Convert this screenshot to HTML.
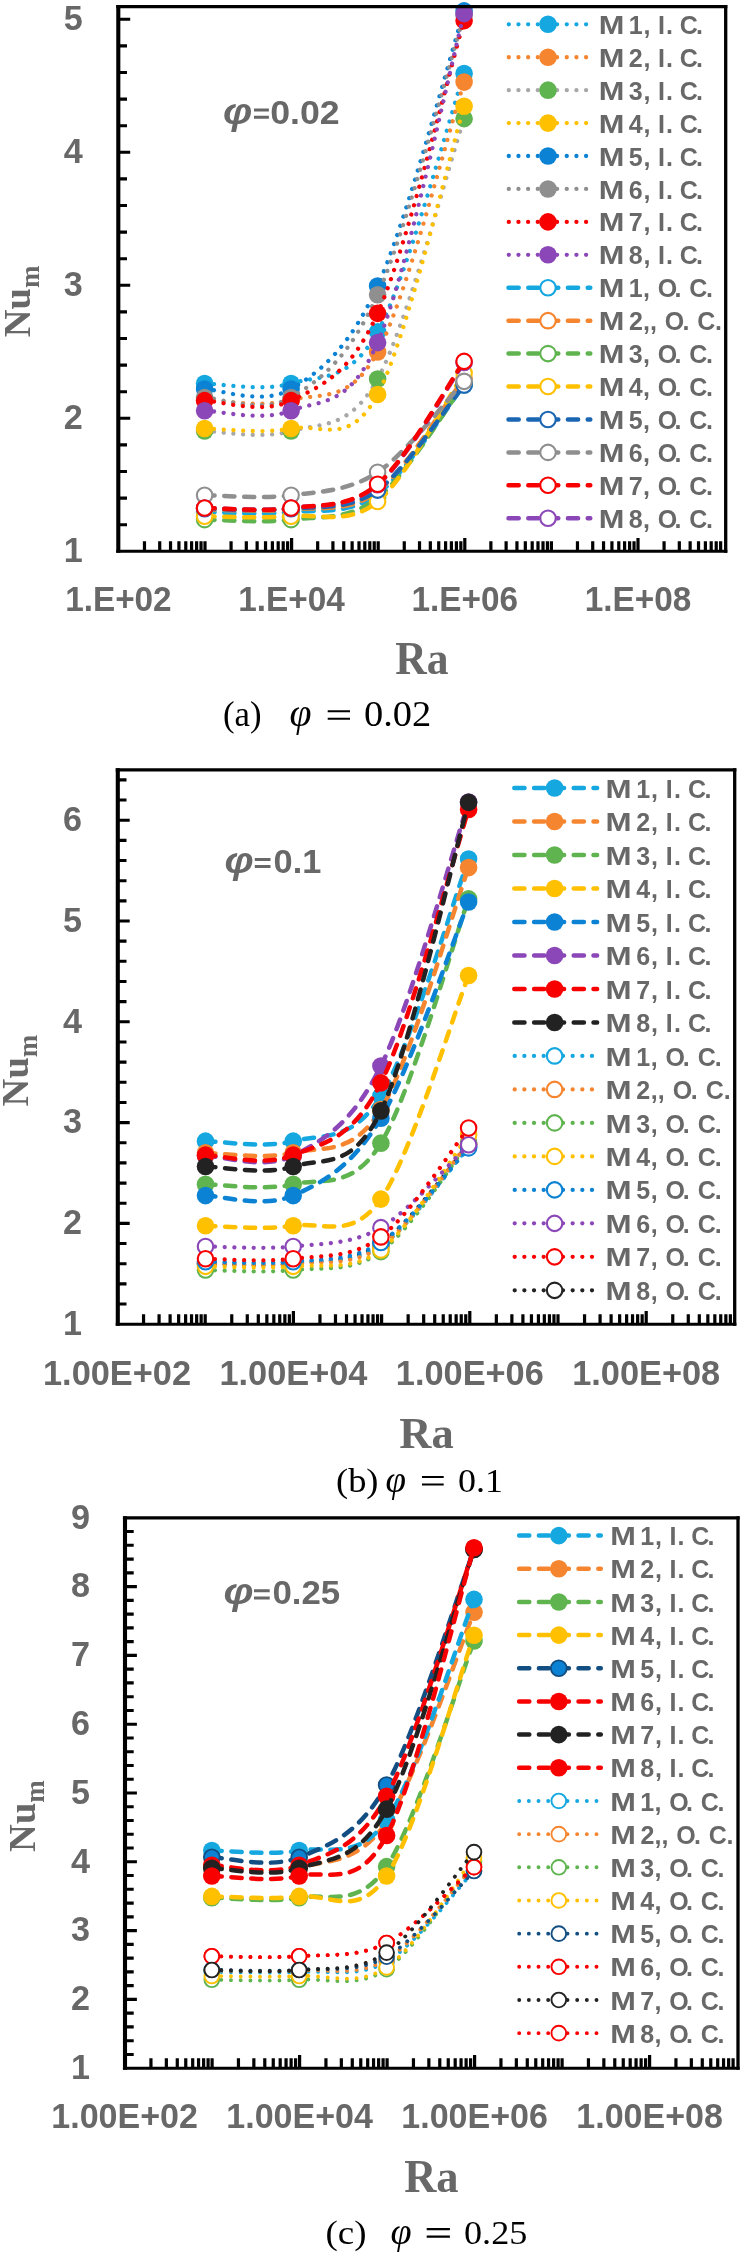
<!DOCTYPE html>
<html><head><meta charset="utf-8"><title>Nu_m vs Ra</title>
<style>
html,body{margin:0;padding:0;background:#fff;}
body{width:742px;height:2255px;overflow:hidden;font-family:"Liberation Sans",sans-serif;}
svg{display:block;will-change:transform;}
</style></head>
<body>
<svg width="742" height="2255" viewBox="0 0 742 2255">
<rect width="742" height="2255" fill="#fff"/>
<clipPath id="clip1"><rect x="106.3" y="-5.4" width="631.4" height="568.7"/></clipPath>
<g clip-path="url(#clip1)">
<path d="M204.6,383.45 C219.02,383.45 262.27,392.05 291.1,383.45 C319.93,374.85 348.77,383.52 377.6,331.85 C406.43,280.18 449.68,116.5 464.1,73.43" fill="none" stroke="#14a7e0" stroke-width="4.3" stroke-dasharray="0.01 9.65" stroke-linecap="round" stroke-linejoin="round"/>
<circle cx="204.6" cy="383.45" r="8.8" fill="#14a7e0"/>
<circle cx="291.1" cy="383.45" r="8.8" fill="#14a7e0"/>
<circle cx="377.6" cy="331.85" r="8.8" fill="#14a7e0"/>
<circle cx="464.1" cy="73.43" r="8.8" fill="#14a7e0"/>
<path d="M204.6,400.08 C219.02,400.08 262.27,408.1 291.1,400.08 C319.93,392.05 348.77,404.93 377.6,351.93 C406.43,298.93 449.68,127.05 464.1,82.08" fill="none" stroke="#f5852e" stroke-width="4.3" stroke-dasharray="0.01 9.65" stroke-linecap="round" stroke-linejoin="round"/>
<circle cx="204.6" cy="400.08" r="8.8" fill="#f5852e"/>
<circle cx="291.1" cy="400.08" r="8.8" fill="#f5852e"/>
<circle cx="377.6" cy="351.93" r="8.8" fill="#f5852e"/>
<circle cx="464.1" cy="82.08" r="8.8" fill="#f5852e"/>
<path d="M204.6,431.07 C219.02,431.07 262.27,439.74 291.1,431.07 C319.93,422.4 348.77,431.13 377.6,379.06 C406.43,327 449.68,162.05 464.1,118.65" fill="none" stroke="#a8a8a8" stroke-width="4.3" stroke-dasharray="0.01 9.65" stroke-linecap="round" stroke-linejoin="round"/>
<circle cx="204.6" cy="431.07" r="8.8" fill="#60b450"/>
<circle cx="291.1" cy="431.07" r="8.8" fill="#60b450"/>
<circle cx="377.6" cy="379.06" r="8.8" fill="#60b450"/>
<circle cx="464.1" cy="118.65" r="8.8" fill="#60b450"/>
<path d="M204.6,428.54 C219.02,428.54 262.27,434.22 291.1,428.54 C319.93,422.87 348.77,448.2 377.6,394.49 C406.43,340.78 449.68,154.32 464.1,106.28" fill="none" stroke="#ffc000" stroke-width="4.3" stroke-dasharray="0.01 9.65" stroke-linecap="round" stroke-linejoin="round"/>
<circle cx="204.6" cy="428.54" r="8.8" fill="#ffc000"/>
<circle cx="291.1" cy="428.54" r="8.8" fill="#ffc000"/>
<circle cx="377.6" cy="394.49" r="8.8" fill="#ffc000"/>
<circle cx="464.1" cy="106.28" r="8.8" fill="#ffc000"/>
<path d="M204.6,389.04 C219.02,389.04 262.27,406.22 291.1,389.04 C319.93,371.86 348.77,348.98 377.6,285.96 C406.43,222.95 449.68,56.76 464.1,10.92" fill="none" stroke="#0b82d3" stroke-width="4.3" stroke-dasharray="0.01 9.65" stroke-linecap="round" stroke-linejoin="round"/>
<circle cx="204.6" cy="389.04" r="8.8" fill="#0b82d3"/>
<circle cx="291.1" cy="389.04" r="8.8" fill="#0b82d3"/>
<circle cx="377.6" cy="285.96" r="8.8" fill="#0b82d3"/>
<circle cx="464.1" cy="10.92" r="8.8" fill="#0b82d3"/>
<path d="M204.6,397.55 C219.02,397.55 262.27,414.69 291.1,397.55 C319.93,380.42 348.77,358.45 377.6,294.74 C406.43,231.04 449.68,61.88 464.1,15.31" fill="none" stroke="#8f8f8f" stroke-width="4.3" stroke-dasharray="0.01 9.65" stroke-linecap="round" stroke-linejoin="round"/>
<circle cx="204.6" cy="397.55" r="8.8" fill="#8f8f8f"/>
<circle cx="291.1" cy="397.55" r="8.8" fill="#8f8f8f"/>
<circle cx="377.6" cy="294.74" r="8.8" fill="#8f8f8f"/>
<circle cx="464.1" cy="15.31" r="8.8" fill="#8f8f8f"/>
<path d="M204.6,400.61 C219.02,400.61 262.27,415.15 291.1,400.61 C319.93,386.07 348.77,376.69 377.6,313.36 C406.43,250.03 449.68,69.42 464.1,20.63" fill="none" stroke="#f80000" stroke-width="4.3" stroke-dasharray="0.01 9.65" stroke-linecap="round" stroke-linejoin="round"/>
<circle cx="204.6" cy="400.61" r="8.8" fill="#f80000"/>
<circle cx="291.1" cy="400.61" r="8.8" fill="#f80000"/>
<circle cx="377.6" cy="313.36" r="8.8" fill="#f80000"/>
<circle cx="464.1" cy="20.63" r="8.8" fill="#f80000"/>
<path d="M204.6,410.72 C219.02,410.72 262.27,422.07 291.1,410.72 C319.93,399.37 348.77,408.81 377.6,342.62 C406.43,276.43 449.68,68.42 464.1,13.58" fill="none" stroke="#8b46b7" stroke-width="4.3" stroke-dasharray="0.01 9.65" stroke-linecap="round" stroke-linejoin="round"/>
<circle cx="204.6" cy="410.72" r="8.8" fill="#8b46b7"/>
<circle cx="291.1" cy="410.72" r="8.8" fill="#8b46b7"/>
<circle cx="377.6" cy="342.62" r="8.8" fill="#8b46b7"/>
<circle cx="464.1" cy="13.58" r="8.8" fill="#8b46b7"/>
<path d="M204.6,512.06 C219.02,512.06 262.27,515.06 291.1,512.06 C319.93,509.07 348.77,515.28 377.6,494.11 C406.43,472.94 449.68,403.23 464.1,385.05" fill="none" stroke="#14a7e0" stroke-width="4.5" stroke-dasharray="10.2 9.6" stroke-linecap="round" stroke-linejoin="round"/>
<circle cx="204.6" cy="512.06" r="7.75" fill="#fff" stroke="#14a7e0" stroke-width="2.1"/>
<circle cx="291.1" cy="512.06" r="7.75" fill="#fff" stroke="#14a7e0" stroke-width="2.1"/>
<circle cx="377.6" cy="494.11" r="7.75" fill="#fff" stroke="#14a7e0" stroke-width="2.1"/>
<circle cx="464.1" cy="385.05" r="7.75" fill="#fff" stroke="#14a7e0" stroke-width="2.1"/>
<path d="M204.6,509.4 C219.02,509.4 262.27,512.4 291.1,509.4 C319.93,506.41 348.77,513.28 377.6,491.45 C406.43,469.62 449.68,397.24 464.1,378.4" fill="none" stroke="#f5852e" stroke-width="4.5" stroke-dasharray="10.2 9.6" stroke-linecap="round" stroke-linejoin="round"/>
<circle cx="204.6" cy="509.4" r="7.75" fill="#fff" stroke="#f5852e" stroke-width="2.1"/>
<circle cx="291.1" cy="509.4" r="7.75" fill="#fff" stroke="#f5852e" stroke-width="2.1"/>
<circle cx="377.6" cy="491.45" r="7.75" fill="#fff" stroke="#f5852e" stroke-width="2.1"/>
<circle cx="464.1" cy="378.4" r="7.75" fill="#fff" stroke="#f5852e" stroke-width="2.1"/>
<path d="M204.6,519.65 C219.02,519.65 262.27,523.24 291.1,519.65 C319.93,516.05 348.77,520.75 377.6,498.1 C406.43,475.45 449.68,402.78 464.1,383.72" fill="none" stroke="#60b450" stroke-width="4.5" stroke-dasharray="10.2 9.6" stroke-linecap="round" stroke-linejoin="round"/>
<circle cx="204.6" cy="519.65" r="7.75" fill="#fff" stroke="#60b450" stroke-width="2.1"/>
<circle cx="291.1" cy="519.65" r="7.75" fill="#fff" stroke="#60b450" stroke-width="2.1"/>
<circle cx="377.6" cy="498.1" r="7.75" fill="#fff" stroke="#60b450" stroke-width="2.1"/>
<circle cx="464.1" cy="383.72" r="7.75" fill="#fff" stroke="#60b450" stroke-width="2.1"/>
<path d="M204.6,516.19 C219.02,516.19 262.27,518.63 291.1,516.19 C319.93,513.75 348.77,525.41 377.6,501.56 C406.43,477.71 449.68,394.49 464.1,373.08" fill="none" stroke="#ffc000" stroke-width="4.5" stroke-dasharray="10.2 9.6" stroke-linecap="round" stroke-linejoin="round"/>
<circle cx="204.6" cy="516.19" r="7.75" fill="#fff" stroke="#ffc000" stroke-width="2.1"/>
<circle cx="291.1" cy="516.19" r="7.75" fill="#fff" stroke="#ffc000" stroke-width="2.1"/>
<circle cx="377.6" cy="501.56" r="7.75" fill="#fff" stroke="#ffc000" stroke-width="2.1"/>
<circle cx="464.1" cy="373.08" r="7.75" fill="#fff" stroke="#ffc000" stroke-width="2.1"/>
<path d="M204.6,508.74 C219.02,508.74 262.27,511.84 291.1,508.74 C319.93,505.64 348.77,510.73 377.6,490.12 C406.43,469.5 449.68,402.56 464.1,385.05" fill="none" stroke="#1a66b2" stroke-width="4.5" stroke-dasharray="10.2 9.6" stroke-linecap="round" stroke-linejoin="round"/>
<circle cx="204.6" cy="508.74" r="7.75" fill="#fff" stroke="#1a66b2" stroke-width="2.1"/>
<circle cx="291.1" cy="508.74" r="7.75" fill="#fff" stroke="#1a66b2" stroke-width="2.1"/>
<circle cx="377.6" cy="490.12" r="7.75" fill="#fff" stroke="#1a66b2" stroke-width="2.1"/>
<circle cx="464.1" cy="385.05" r="7.75" fill="#fff" stroke="#1a66b2" stroke-width="2.1"/>
<path d="M204.6,495.31 C219.02,495.31 262.27,499.14 291.1,495.31 C319.93,491.47 348.77,491.29 377.6,472.3 C406.43,453.3 449.68,396.49 464.1,381.33" fill="none" stroke="#8f8f8f" stroke-width="4.5" stroke-dasharray="10.2 9.6" stroke-linecap="round" stroke-linejoin="round"/>
<circle cx="204.6" cy="495.31" r="7.75" fill="#fff" stroke="#8f8f8f" stroke-width="2.1"/>
<circle cx="291.1" cy="495.31" r="7.75" fill="#fff" stroke="#8f8f8f" stroke-width="2.1"/>
<circle cx="377.6" cy="472.3" r="7.75" fill="#fff" stroke="#8f8f8f" stroke-width="2.1"/>
<circle cx="464.1" cy="381.33" r="7.75" fill="#fff" stroke="#8f8f8f" stroke-width="2.1"/>
<path d="M204.6,508.07 C219.02,508.07 262.27,511.95 291.1,508.07 C319.93,504.2 348.77,509.07 377.6,484.8 C406.43,460.53 449.68,382.83 464.1,362.44" fill="none" stroke="#8b46b7" stroke-width="4.5" stroke-dasharray="10.2 9.6" stroke-linecap="round" stroke-linejoin="round"/>
<circle cx="204.6" cy="508.07" r="7.75" fill="#fff" stroke="#8b46b7" stroke-width="2.1"/>
<circle cx="291.1" cy="508.07" r="7.75" fill="#fff" stroke="#8b46b7" stroke-width="2.1"/>
<circle cx="377.6" cy="484.8" r="7.75" fill="#fff" stroke="#8b46b7" stroke-width="2.1"/>
<circle cx="464.1" cy="362.44" r="7.75" fill="#fff" stroke="#8b46b7" stroke-width="2.1"/>
<path d="M204.6,508.07 C219.02,508.07 262.27,512.04 291.1,508.07 C319.93,504.11 348.77,508.72 377.6,484.27 C406.43,459.82 449.68,381.86 464.1,361.38" fill="none" stroke="#f80000" stroke-width="4.5" stroke-dasharray="10.2 9.6" stroke-linecap="round" stroke-linejoin="round"/>
<circle cx="204.6" cy="508.07" r="7.75" fill="#fff" stroke="#f80000" stroke-width="2.1"/>
<circle cx="291.1" cy="508.07" r="7.75" fill="#fff" stroke="#f80000" stroke-width="2.1"/>
<circle cx="377.6" cy="484.27" r="7.75" fill="#fff" stroke="#f80000" stroke-width="2.1"/>
<circle cx="464.1" cy="361.38" r="7.75" fill="#fff" stroke="#f80000" stroke-width="2.1"/>
</g>
<path d="M118.3,4.95 V552.85" stroke="#000" stroke-width="4.1" fill="none"/>
<path d="M725.7,4.95 V552.85" stroke="#000" stroke-width="3.3" fill="none"/>
<path d="M116.25,6.6 H727.35" stroke="#000" stroke-width="3.3" fill="none"/>
<path d="M116.25,551.3 H727.35" stroke="#000" stroke-width="3.1" fill="none"/>
<path d="M118.3,524.7 h8.7 M118.3,498.1 h8.7 M118.3,471.5 h8.7 M118.3,444.9 h8.7 M118.3,418.3 h11.9 M118.3,391.7 h8.7 M118.3,365.1 h8.7 M118.3,338.5 h8.7 M118.3,311.9 h8.7 M118.3,285.3 h11.9 M118.3,258.7 h8.7 M118.3,232.1 h8.7 M118.3,205.5 h8.7 M118.3,178.9 h8.7 M118.3,152.3 h11.9 M118.3,125.7 h8.7 M118.3,99.1 h8.7 M118.3,72.5 h8.7 M118.3,45.9 h8.7 M118.3,19.3 h11.9" stroke="#000" stroke-width="3.1" fill="none"/>
<path d="M144.47,551.3 v-10 M159.72,551.3 v-10 M170.54,551.3 v-10 M178.93,551.3 v-10 M185.79,551.3 v-10 M191.59,551.3 v-10 M196.61,551.3 v-10 M201.04,551.3 v-10 M205,551.3 v-10 M231.07,551.3 v-10 M246.32,551.3 v-10 M257.14,551.3 v-10 M265.53,551.3 v-10 M272.39,551.3 v-10 M278.19,551.3 v-10 M283.21,551.3 v-10 M287.64,551.3 v-10 M291.6,551.3 v-13.2 M317.67,551.3 v-10 M332.92,551.3 v-10 M343.74,551.3 v-10 M352.13,551.3 v-10 M358.99,551.3 v-10 M364.79,551.3 v-10 M369.81,551.3 v-10 M374.24,551.3 v-10 M378.2,551.3 v-10 M404.27,551.3 v-10 M419.52,551.3 v-10 M430.34,551.3 v-10 M438.73,551.3 v-10 M445.59,551.3 v-10 M451.39,551.3 v-10 M456.41,551.3 v-10 M460.84,551.3 v-10 M464.8,551.3 v-13.2 M490.87,551.3 v-10 M506.12,551.3 v-10 M516.94,551.3 v-10 M525.33,551.3 v-10 M532.19,551.3 v-10 M537.99,551.3 v-10 M543.01,551.3 v-10 M547.44,551.3 v-10 M551.4,551.3 v-10 M577.47,551.3 v-10 M592.72,551.3 v-10 M603.54,551.3 v-10 M611.93,551.3 v-10 M618.79,551.3 v-10 M624.59,551.3 v-10 M629.61,551.3 v-10 M634.04,551.3 v-10 M638,551.3 v-13.2 M664.07,551.3 v-10 M679.32,551.3 v-10 M690.14,551.3 v-10 M698.53,551.3 v-10 M705.39,551.3 v-10 M711.19,551.3 v-10 M716.21,551.3 v-10 M720.64,551.3 v-10" stroke="#000" stroke-width="3.2" fill="none"/>
<text x="82.8" y="562.1" font-family="Liberation Sans, sans-serif" font-size="34.2" font-weight="bold" fill="#686868" text-anchor="end">1</text>
<text x="82.8" y="429.1" font-family="Liberation Sans, sans-serif" font-size="34.2" font-weight="bold" fill="#686868" text-anchor="end">2</text>
<text x="82.8" y="296.1" font-family="Liberation Sans, sans-serif" font-size="34.2" font-weight="bold" fill="#686868" text-anchor="end">3</text>
<text x="82.8" y="163.1" font-family="Liberation Sans, sans-serif" font-size="34.2" font-weight="bold" fill="#686868" text-anchor="end">4</text>
<text x="82.8" y="30.1" font-family="Liberation Sans, sans-serif" font-size="34.2" font-weight="bold" fill="#686868" text-anchor="end">5</text>
<text x="118.4" y="610.8" font-family="Liberation Sans, sans-serif" font-size="34.5" font-weight="bold" fill="#686868" text-anchor="middle" textLength="106.5" lengthAdjust="spacingAndGlyphs">1.E+02</text>
<text x="291.6" y="610.8" font-family="Liberation Sans, sans-serif" font-size="34.5" font-weight="bold" fill="#686868" text-anchor="middle" textLength="106.5" lengthAdjust="spacingAndGlyphs">1.E+04</text>
<text x="464.8" y="610.8" font-family="Liberation Sans, sans-serif" font-size="34.5" font-weight="bold" fill="#686868" text-anchor="middle" textLength="106.5" lengthAdjust="spacingAndGlyphs">1.E+06</text>
<text x="638" y="610.8" font-family="Liberation Sans, sans-serif" font-size="34.5" font-weight="bold" fill="#686868" text-anchor="middle" textLength="106.5" lengthAdjust="spacingAndGlyphs">1.E+08</text>
<text x="395.2" y="673.9" font-family="Liberation Serif, serif" font-size="46.5" font-weight="bold" fill="#686868" text-anchor="start" textLength="53.3" lengthAdjust="spacingAndGlyphs">Ra</text>
<g transform="translate(30.3,337.2) rotate(-90)">
<text x="0" y="0" font-family="Liberation Serif, serif" font-weight="bold" fill="#686868" font-size="38.5">Nu<tspan font-size="27" dy="9">m</tspan></text>
</g>
<text transform="translate(223.11,123.6) scale(1.152,1)" font-family="Liberation Sans, sans-serif" font-weight="bold" font-style="italic" fill="#686868" font-size="36.1">&#966;</text>
<path d="M254,110 H268.9 M254,117.2 H268.9" stroke="#686868" stroke-width="3.0" fill="none"/>
<text x="270.29" y="123.6" font-family="Liberation Sans, sans-serif" font-size="33" font-weight="bold" fill="#686868" text-anchor="start" textLength="69.44" lengthAdjust="spacingAndGlyphs">0.02</text>
<text x="223" y="725.8" font-family="Liberation Serif, serif" font-size="35.5" font-weight="normal" fill="#000" text-anchor="start" textLength="38.6" lengthAdjust="spacingAndGlyphs">(a)</text>
<text x="289.5" y="725.8" font-family="Liberation Serif, serif" font-style="italic" fill="#000" font-size="39.760000000000005">&#966;</text>
<path d="M327.7,711.3 h22.3 M327.7,718.8 h22.3" stroke="#000" stroke-width="2.1"/>
<text x="364" y="725.8" font-family="Liberation Serif, serif" font-size="35.5" font-weight="normal" fill="#000" text-anchor="start" textLength="67.3" lengthAdjust="spacingAndGlyphs">0.02</text>
<path d="M508.8,24.3 H586.5" fill="none" stroke="#14a7e0" stroke-width="4.3" stroke-dasharray="0.01 9.65" stroke-linecap="round" stroke-linejoin="round"/>
<circle cx="548" cy="24.3" r="8.8" fill="#14a7e0"/>
<text x="598.7" y="33.9" font-family="Liberation Sans, sans-serif" font-size="25" font-weight="bold" fill="#686868" text-anchor="start" textLength="25.6" lengthAdjust="spacingAndGlyphs">M</text>
<text x="628.8 643.4 657.9 666 679.7 695.9" y="33.9" font-family="Liberation Sans, sans-serif" font-size="25" font-weight="bold" fill="#686868">1,I.C.</text>
<path d="M508.8,57.23 H586.5" fill="none" stroke="#f5852e" stroke-width="4.3" stroke-dasharray="0.01 9.65" stroke-linecap="round" stroke-linejoin="round"/>
<circle cx="548" cy="57.23" r="8.8" fill="#f5852e"/>
<text x="598.7" y="66.83" font-family="Liberation Sans, sans-serif" font-size="25" font-weight="bold" fill="#686868" text-anchor="start" textLength="25.6" lengthAdjust="spacingAndGlyphs">M</text>
<text x="628.8 643.4 657.9 666 679.7 695.9" y="66.83" font-family="Liberation Sans, sans-serif" font-size="25" font-weight="bold" fill="#686868">2,I.C.</text>
<path d="M508.8,90.16 H586.5" fill="none" stroke="#a8a8a8" stroke-width="4.3" stroke-dasharray="0.01 9.65" stroke-linecap="round" stroke-linejoin="round"/>
<circle cx="548" cy="90.16" r="8.8" fill="#60b450"/>
<text x="598.7" y="99.76" font-family="Liberation Sans, sans-serif" font-size="25" font-weight="bold" fill="#686868" text-anchor="start" textLength="25.6" lengthAdjust="spacingAndGlyphs">M</text>
<text x="628.8 643.4 657.9 666 679.7 695.9" y="99.76" font-family="Liberation Sans, sans-serif" font-size="25" font-weight="bold" fill="#686868">3,I.C.</text>
<path d="M508.8,123.09 H586.5" fill="none" stroke="#ffc000" stroke-width="4.3" stroke-dasharray="0.01 9.65" stroke-linecap="round" stroke-linejoin="round"/>
<circle cx="548" cy="123.09" r="8.8" fill="#ffc000"/>
<text x="598.7" y="132.69" font-family="Liberation Sans, sans-serif" font-size="25" font-weight="bold" fill="#686868" text-anchor="start" textLength="25.6" lengthAdjust="spacingAndGlyphs">M</text>
<text x="628.8 643.4 657.9 666 679.7 695.9" y="132.69" font-family="Liberation Sans, sans-serif" font-size="25" font-weight="bold" fill="#686868">4,I.C.</text>
<path d="M508.8,156.02 H586.5" fill="none" stroke="#0b82d3" stroke-width="4.3" stroke-dasharray="0.01 9.65" stroke-linecap="round" stroke-linejoin="round"/>
<circle cx="548" cy="156.02" r="8.8" fill="#0b82d3"/>
<text x="598.7" y="165.62" font-family="Liberation Sans, sans-serif" font-size="25" font-weight="bold" fill="#686868" text-anchor="start" textLength="25.6" lengthAdjust="spacingAndGlyphs">M</text>
<text x="628.8 643.4 657.9 666 679.7 695.9" y="165.62" font-family="Liberation Sans, sans-serif" font-size="25" font-weight="bold" fill="#686868">5,I.C.</text>
<path d="M508.8,188.95 H586.5" fill="none" stroke="#8f8f8f" stroke-width="4.3" stroke-dasharray="0.01 9.65" stroke-linecap="round" stroke-linejoin="round"/>
<circle cx="548" cy="188.95" r="8.8" fill="#8f8f8f"/>
<text x="598.7" y="198.55" font-family="Liberation Sans, sans-serif" font-size="25" font-weight="bold" fill="#686868" text-anchor="start" textLength="25.6" lengthAdjust="spacingAndGlyphs">M</text>
<text x="628.8 643.4 657.9 666 679.7 695.9" y="198.55" font-family="Liberation Sans, sans-serif" font-size="25" font-weight="bold" fill="#686868">6,I.C.</text>
<path d="M508.8,221.88 H586.5" fill="none" stroke="#f80000" stroke-width="4.3" stroke-dasharray="0.01 9.65" stroke-linecap="round" stroke-linejoin="round"/>
<circle cx="548" cy="221.88" r="8.8" fill="#f80000"/>
<text x="598.7" y="231.48" font-family="Liberation Sans, sans-serif" font-size="25" font-weight="bold" fill="#686868" text-anchor="start" textLength="25.6" lengthAdjust="spacingAndGlyphs">M</text>
<text x="628.8 643.4 657.9 666 679.7 695.9" y="231.48" font-family="Liberation Sans, sans-serif" font-size="25" font-weight="bold" fill="#686868">7,I.C.</text>
<path d="M508.8,254.81 H586.5" fill="none" stroke="#8b46b7" stroke-width="4.3" stroke-dasharray="0.01 9.65" stroke-linecap="round" stroke-linejoin="round"/>
<circle cx="548" cy="254.81" r="8.8" fill="#8b46b7"/>
<text x="598.7" y="264.41" font-family="Liberation Sans, sans-serif" font-size="25" font-weight="bold" fill="#686868" text-anchor="start" textLength="25.6" lengthAdjust="spacingAndGlyphs">M</text>
<text x="628.8 643.4 657.9 666 679.7 695.9" y="264.41" font-family="Liberation Sans, sans-serif" font-size="25" font-weight="bold" fill="#686868">8,I.C.</text>
<path d="M508.5,287.74 H590.3" fill="none" stroke="#14a7e0" stroke-width="4.5" stroke-dasharray="10.2 9.6" stroke-linecap="round" stroke-linejoin="round"/>
<circle cx="548" cy="287.74" r="7.75" fill="#fff" stroke="#14a7e0" stroke-width="2.1"/>
<text x="598.7" y="297.34" font-family="Liberation Sans, sans-serif" font-size="25" font-weight="bold" fill="#686868" text-anchor="start" textLength="25.6" lengthAdjust="spacingAndGlyphs">M</text>
<text x="628.8 643 657.7 674.6 689.3 706.1" y="297.34" font-family="Liberation Sans, sans-serif" font-size="25" font-weight="bold" fill="#686868">1,O.C.</text>
<path d="M508.5,320.67 H590.3" fill="none" stroke="#f5852e" stroke-width="4.5" stroke-dasharray="10.2 9.6" stroke-linecap="round" stroke-linejoin="round"/>
<circle cx="548" cy="320.67" r="7.75" fill="#fff" stroke="#f5852e" stroke-width="2.1"/>
<text x="598.7" y="330.27" font-family="Liberation Sans, sans-serif" font-size="25" font-weight="bold" fill="#686868" text-anchor="start" textLength="25.6" lengthAdjust="spacingAndGlyphs">M</text>
<text x="628.9 643 650.1 664.8 682.4 697.2 714.9" y="330.27" font-family="Liberation Sans, sans-serif" font-size="25" font-weight="bold" fill="#686868">2,,O.C.</text>
<path d="M508.5,353.6 H590.3" fill="none" stroke="#60b450" stroke-width="4.5" stroke-dasharray="10.2 9.6" stroke-linecap="round" stroke-linejoin="round"/>
<circle cx="548" cy="353.6" r="7.75" fill="#fff" stroke="#60b450" stroke-width="2.1"/>
<text x="598.7" y="363.2" font-family="Liberation Sans, sans-serif" font-size="25" font-weight="bold" fill="#686868" text-anchor="start" textLength="25.6" lengthAdjust="spacingAndGlyphs">M</text>
<text x="628.8 643 657.7 674.6 689.3 706.1" y="363.2" font-family="Liberation Sans, sans-serif" font-size="25" font-weight="bold" fill="#686868">3,O.C.</text>
<path d="M508.5,386.53 H590.3" fill="none" stroke="#ffc000" stroke-width="4.5" stroke-dasharray="10.2 9.6" stroke-linecap="round" stroke-linejoin="round"/>
<circle cx="548" cy="386.53" r="7.75" fill="#fff" stroke="#ffc000" stroke-width="2.1"/>
<text x="598.7" y="396.13" font-family="Liberation Sans, sans-serif" font-size="25" font-weight="bold" fill="#686868" text-anchor="start" textLength="25.6" lengthAdjust="spacingAndGlyphs">M</text>
<text x="628.8 643 657.7 674.6 689.3 706.1" y="396.13" font-family="Liberation Sans, sans-serif" font-size="25" font-weight="bold" fill="#686868">4,O.C.</text>
<path d="M508.5,419.46 H590.3" fill="none" stroke="#1a66b2" stroke-width="4.5" stroke-dasharray="10.2 9.6" stroke-linecap="round" stroke-linejoin="round"/>
<circle cx="548" cy="419.46" r="7.75" fill="#fff" stroke="#1a66b2" stroke-width="2.1"/>
<text x="598.7" y="429.06" font-family="Liberation Sans, sans-serif" font-size="25" font-weight="bold" fill="#686868" text-anchor="start" textLength="25.6" lengthAdjust="spacingAndGlyphs">M</text>
<text x="628.8 643 657.7 674.6 689.3 706.1" y="429.06" font-family="Liberation Sans, sans-serif" font-size="25" font-weight="bold" fill="#686868">5,O.C.</text>
<path d="M508.5,452.39 H590.3" fill="none" stroke="#8f8f8f" stroke-width="4.5" stroke-dasharray="10.2 9.6" stroke-linecap="round" stroke-linejoin="round"/>
<circle cx="548" cy="452.39" r="7.75" fill="#fff" stroke="#8f8f8f" stroke-width="2.1"/>
<text x="598.7" y="461.99" font-family="Liberation Sans, sans-serif" font-size="25" font-weight="bold" fill="#686868" text-anchor="start" textLength="25.6" lengthAdjust="spacingAndGlyphs">M</text>
<text x="628.8 643 657.7 674.6 689.3 706.1" y="461.99" font-family="Liberation Sans, sans-serif" font-size="25" font-weight="bold" fill="#686868">6,O.C.</text>
<path d="M508.5,485.32 H590.3" fill="none" stroke="#f80000" stroke-width="4.5" stroke-dasharray="10.2 9.6" stroke-linecap="round" stroke-linejoin="round"/>
<circle cx="548" cy="485.32" r="7.75" fill="#fff" stroke="#f80000" stroke-width="2.1"/>
<text x="598.7" y="494.92" font-family="Liberation Sans, sans-serif" font-size="25" font-weight="bold" fill="#686868" text-anchor="start" textLength="25.6" lengthAdjust="spacingAndGlyphs">M</text>
<text x="628.8 643 657.7 674.6 689.3 706.1" y="494.92" font-family="Liberation Sans, sans-serif" font-size="25" font-weight="bold" fill="#686868">7,O.C.</text>
<path d="M508.5,518.25 H590.3" fill="none" stroke="#8b46b7" stroke-width="4.5" stroke-dasharray="10.2 9.6" stroke-linecap="round" stroke-linejoin="round"/>
<circle cx="548" cy="518.25" r="7.75" fill="#fff" stroke="#8b46b7" stroke-width="2.1"/>
<text x="598.7" y="527.85" font-family="Liberation Sans, sans-serif" font-size="25" font-weight="bold" fill="#686868" text-anchor="start" textLength="25.6" lengthAdjust="spacingAndGlyphs">M</text>
<text x="628.8 643 657.7 674.6 689.3 706.1" y="527.85" font-family="Liberation Sans, sans-serif" font-size="25" font-weight="bold" fill="#686868">8,O.C.</text>
<clipPath id="clip2"><rect x="105.8" y="757.9" width="640.9" height="578.3"/></clipPath>
<g clip-path="url(#clip2)">
<path d="M205.5,1141.15 C220.12,1141.15 263.97,1148.67 293.2,1141.15 C322.43,1133.62 351.67,1143.01 380.9,1095.99 C410.13,1048.97 453.98,898.5 468.6,859.01" fill="none" stroke="#14a7e0" stroke-width="4.5" stroke-dasharray="10.2 9.6" stroke-linecap="round" stroke-linejoin="round"/>
<circle cx="205.5" cy="1141.15" r="8.8" fill="#14a7e0"/>
<circle cx="293.2" cy="1141.15" r="8.8" fill="#14a7e0"/>
<circle cx="380.9" cy="1095.99" r="8.8" fill="#14a7e0"/>
<circle cx="468.6" cy="859.01" r="8.8" fill="#14a7e0"/>
<path d="M205.5,1152.84 C220.12,1152.84 263.97,1160.06 293.2,1152.84 C322.43,1145.62 351.67,1157.04 380.9,1109.5 C410.13,1061.95 453.98,907.9 468.6,867.58" fill="none" stroke="#f5852e" stroke-width="4.5" stroke-dasharray="10.2 9.6" stroke-linecap="round" stroke-linejoin="round"/>
<circle cx="205.5" cy="1152.84" r="8.8" fill="#f5852e"/>
<circle cx="293.2" cy="1152.84" r="8.8" fill="#f5852e"/>
<circle cx="380.9" cy="1109.5" r="8.8" fill="#f5852e"/>
<circle cx="468.6" cy="867.58" r="8.8" fill="#f5852e"/>
<path d="M205.5,1184.29 C220.12,1184.29 263.97,1191.14 293.2,1184.29 C322.43,1177.44 351.67,1190.72 380.9,1143.16 C410.13,1095.6 453.98,939.63 468.6,898.92" fill="none" stroke="#60b450" stroke-width="4.5" stroke-dasharray="10.2 9.6" stroke-linecap="round" stroke-linejoin="round"/>
<circle cx="205.5" cy="1184.29" r="8.8" fill="#60b450"/>
<circle cx="293.2" cy="1184.29" r="8.8" fill="#60b450"/>
<circle cx="380.9" cy="1143.16" r="8.8" fill="#60b450"/>
<circle cx="468.6" cy="898.92" r="8.8" fill="#60b450"/>
<path d="M205.5,1225.82 C220.12,1225.82 263.97,1230.27 293.2,1225.82 C322.43,1221.37 351.67,1240.84 380.9,1199.11 C410.13,1157.38 453.98,1012.71 468.6,975.43" fill="none" stroke="#ffc000" stroke-width="4.5" stroke-dasharray="10.2 9.6" stroke-linecap="round" stroke-linejoin="round"/>
<circle cx="205.5" cy="1225.82" r="8.8" fill="#ffc000"/>
<circle cx="293.2" cy="1225.82" r="8.8" fill="#ffc000"/>
<circle cx="380.9" cy="1199.11" r="8.8" fill="#ffc000"/>
<circle cx="468.6" cy="975.43" r="8.8" fill="#ffc000"/>
<path d="M205.5,1195.58 C220.12,1195.58 263.97,1208.46 293.2,1195.58 C322.43,1182.69 351.67,1167.19 380.9,1118.27 C410.13,1069.34 453.98,938.09 468.6,902.05" fill="none" stroke="#0b82d3" stroke-width="4.5" stroke-dasharray="10.2 9.6" stroke-linecap="round" stroke-linejoin="round"/>
<circle cx="205.5" cy="1195.58" r="8.8" fill="#0b82d3"/>
<circle cx="293.2" cy="1195.58" r="8.8" fill="#0b82d3"/>
<circle cx="380.9" cy="1118.27" r="8.8" fill="#0b82d3"/>
<circle cx="468.6" cy="902.05" r="8.8" fill="#0b82d3"/>
<path d="M205.5,1155.66 C220.12,1155.66 263.97,1170.6 293.2,1155.66 C322.43,1140.73 351.67,1124.99 380.9,1066.05 C410.13,1007.12 453.98,846.06 468.6,802.06" fill="none" stroke="#8b46b7" stroke-width="4.5" stroke-dasharray="10.2 9.6" stroke-linecap="round" stroke-linejoin="round"/>
<circle cx="205.5" cy="1155.66" r="8.8" fill="#8b46b7"/>
<circle cx="293.2" cy="1155.66" r="8.8" fill="#8b46b7"/>
<circle cx="380.9" cy="1066.05" r="8.8" fill="#8b46b7"/>
<circle cx="468.6" cy="802.06" r="8.8" fill="#8b46b7"/>
<path d="M205.5,1155.16 C220.12,1155.16 263.97,1167.2 293.2,1155.16 C322.43,1143.11 351.67,1140.51 380.9,1082.88 C410.13,1025.26 453.98,854.99 468.6,809.41" fill="none" stroke="#f80000" stroke-width="4.5" stroke-dasharray="10.2 9.6" stroke-linecap="round" stroke-linejoin="round"/>
<circle cx="205.5" cy="1155.16" r="8.8" fill="#f80000"/>
<circle cx="293.2" cy="1155.16" r="8.8" fill="#f80000"/>
<circle cx="380.9" cy="1082.88" r="8.8" fill="#f80000"/>
<circle cx="468.6" cy="809.41" r="8.8" fill="#f80000"/>
<path d="M205.5,1166.45 C220.12,1166.45 263.97,1175.7 293.2,1166.45 C322.43,1157.19 351.67,1171.59 380.9,1110.91 C410.13,1050.23 453.98,853.78 468.6,802.36" fill="none" stroke="#222222" stroke-width="4.5" stroke-dasharray="10.2 9.6" stroke-linecap="round" stroke-linejoin="round"/>
<circle cx="205.5" cy="1166.45" r="8.8" fill="#222222"/>
<circle cx="293.2" cy="1166.45" r="8.8" fill="#222222"/>
<circle cx="380.9" cy="1110.91" r="8.8" fill="#222222"/>
<circle cx="468.6" cy="802.36" r="8.8" fill="#222222"/>
<path d="M205.5,1263.72 C220.12,1263.72 263.97,1267.08 293.2,1263.72 C322.43,1260.36 351.67,1263.38 380.9,1243.56 C410.13,1223.74 453.98,1161.24 468.6,1144.78" fill="none" stroke="#222222" stroke-width="4.3" stroke-dasharray="0.01 9.65" stroke-linecap="round" stroke-linejoin="round"/>
<circle cx="205.5" cy="1263.72" r="7.75" fill="#fff" stroke="#222222" stroke-width="2.1"/>
<circle cx="293.2" cy="1263.72" r="7.75" fill="#fff" stroke="#222222" stroke-width="2.1"/>
<circle cx="380.9" cy="1243.56" r="7.75" fill="#fff" stroke="#222222" stroke-width="2.1"/>
<circle cx="468.6" cy="1144.78" r="7.75" fill="#fff" stroke="#222222" stroke-width="2.1"/>
<path d="M205.5,1261.7 C220.12,1261.7 263.97,1264.39 293.2,1261.7 C322.43,1259.02 351.67,1264.73 380.9,1245.58 C410.13,1226.42 453.98,1163.26 468.6,1146.79" fill="none" stroke="#14a7e0" stroke-width="4.3" stroke-dasharray="0.01 9.65" stroke-linecap="round" stroke-linejoin="round"/>
<circle cx="205.5" cy="1261.7" r="7.75" fill="#fff" stroke="#14a7e0" stroke-width="2.1"/>
<circle cx="293.2" cy="1261.7" r="7.75" fill="#fff" stroke="#14a7e0" stroke-width="2.1"/>
<circle cx="380.9" cy="1245.58" r="7.75" fill="#fff" stroke="#14a7e0" stroke-width="2.1"/>
<circle cx="468.6" cy="1146.79" r="7.75" fill="#fff" stroke="#14a7e0" stroke-width="2.1"/>
<path d="M205.5,1263.72 C220.12,1263.72 263.97,1266.58 293.2,1263.72 C322.43,1260.86 351.67,1266.74 380.9,1246.58 C410.13,1226.42 453.98,1160.06 468.6,1142.76" fill="none" stroke="#f5852e" stroke-width="4.3" stroke-dasharray="0.01 9.65" stroke-linecap="round" stroke-linejoin="round"/>
<circle cx="205.5" cy="1263.72" r="7.75" fill="#fff" stroke="#f5852e" stroke-width="2.1"/>
<circle cx="293.2" cy="1263.72" r="7.75" fill="#fff" stroke="#f5852e" stroke-width="2.1"/>
<circle cx="380.9" cy="1246.58" r="7.75" fill="#fff" stroke="#f5852e" stroke-width="2.1"/>
<circle cx="468.6" cy="1142.76" r="7.75" fill="#fff" stroke="#f5852e" stroke-width="2.1"/>
<path d="M205.5,1270.07 C220.12,1270.07 263.97,1273.14 293.2,1270.07 C322.43,1267 351.67,1272.84 380.9,1251.62 C410.13,1230.41 453.98,1160.9 468.6,1142.76" fill="none" stroke="#60b450" stroke-width="4.3" stroke-dasharray="0.01 9.65" stroke-linecap="round" stroke-linejoin="round"/>
<circle cx="205.5" cy="1270.07" r="7.75" fill="#fff" stroke="#60b450" stroke-width="2.1"/>
<circle cx="293.2" cy="1270.07" r="7.75" fill="#fff" stroke="#60b450" stroke-width="2.1"/>
<circle cx="380.9" cy="1251.62" r="7.75" fill="#fff" stroke="#60b450" stroke-width="2.1"/>
<circle cx="468.6" cy="1142.76" r="7.75" fill="#fff" stroke="#60b450" stroke-width="2.1"/>
<path d="M205.5,1266.34 C220.12,1266.34 263.97,1269.06 293.2,1266.34 C322.43,1263.62 351.67,1271.9 380.9,1250.01 C410.13,1228.12 453.98,1154.17 468.6,1135" fill="none" stroke="#ffc000" stroke-width="4.3" stroke-dasharray="0.01 9.65" stroke-linecap="round" stroke-linejoin="round"/>
<circle cx="205.5" cy="1266.34" r="7.75" fill="#fff" stroke="#ffc000" stroke-width="2.1"/>
<circle cx="293.2" cy="1266.34" r="7.75" fill="#fff" stroke="#ffc000" stroke-width="2.1"/>
<circle cx="380.9" cy="1250.01" r="7.75" fill="#fff" stroke="#ffc000" stroke-width="2.1"/>
<circle cx="468.6" cy="1135" r="7.75" fill="#fff" stroke="#ffc000" stroke-width="2.1"/>
<path d="M205.5,1261.7 C220.12,1261.7 263.97,1264.9 293.2,1261.7 C322.43,1258.51 351.67,1261.52 380.9,1242.55 C410.13,1223.58 453.98,1163.68 468.6,1147.9" fill="none" stroke="#0b82d3" stroke-width="4.3" stroke-dasharray="0.01 9.65" stroke-linecap="round" stroke-linejoin="round"/>
<circle cx="205.5" cy="1261.7" r="7.75" fill="#fff" stroke="#0b82d3" stroke-width="2.1"/>
<circle cx="293.2" cy="1261.7" r="7.75" fill="#fff" stroke="#0b82d3" stroke-width="2.1"/>
<circle cx="380.9" cy="1242.55" r="7.75" fill="#fff" stroke="#0b82d3" stroke-width="2.1"/>
<circle cx="468.6" cy="1147.9" r="7.75" fill="#fff" stroke="#0b82d3" stroke-width="2.1"/>
<path d="M205.5,1246.48 C220.12,1246.48 263.97,1249.62 293.2,1246.48 C322.43,1243.34 351.67,1244.6 380.9,1227.63 C410.13,1210.67 453.98,1158.5 468.6,1144.68" fill="none" stroke="#8b46b7" stroke-width="4.3" stroke-dasharray="0.01 9.65" stroke-linecap="round" stroke-linejoin="round"/>
<circle cx="205.5" cy="1246.48" r="7.75" fill="#fff" stroke="#8b46b7" stroke-width="2.1"/>
<circle cx="293.2" cy="1246.48" r="7.75" fill="#fff" stroke="#8b46b7" stroke-width="2.1"/>
<circle cx="380.9" cy="1227.63" r="7.75" fill="#fff" stroke="#8b46b7" stroke-width="2.1"/>
<circle cx="468.6" cy="1144.68" r="7.75" fill="#fff" stroke="#8b46b7" stroke-width="2.1"/>
<path d="M205.5,1258.78 C220.12,1258.78 263.97,1262.43 293.2,1258.78 C322.43,1255.14 351.67,1258.7 380.9,1236.91 C410.13,1215.12 453.98,1146.19 468.6,1128.04" fill="none" stroke="#f80000" stroke-width="4.3" stroke-dasharray="0.01 9.65" stroke-linecap="round" stroke-linejoin="round"/>
<circle cx="205.5" cy="1258.78" r="7.75" fill="#fff" stroke="#f80000" stroke-width="2.1"/>
<circle cx="293.2" cy="1258.78" r="7.75" fill="#fff" stroke="#f80000" stroke-width="2.1"/>
<circle cx="380.9" cy="1236.91" r="7.75" fill="#fff" stroke="#f80000" stroke-width="2.1"/>
<circle cx="468.6" cy="1128.04" r="7.75" fill="#fff" stroke="#f80000" stroke-width="2.1"/>
</g>
<path d="M117.8,768.25 V1325.75" stroke="#000" stroke-width="4.1" fill="none"/>
<path d="M734.7,768.25 V1325.75" stroke="#000" stroke-width="3.3" fill="none"/>
<path d="M115.75,769.9 H736.35" stroke="#000" stroke-width="3.3" fill="none"/>
<path d="M115.75,1324.2 H736.35" stroke="#000" stroke-width="3.1" fill="none"/>
<path d="M117.8,1304.04 h8.7 M117.8,1283.88 h8.7 M117.8,1263.72 h8.7 M117.8,1243.56 h8.7 M117.8,1223.4 h11.9 M117.8,1203.24 h8.7 M117.8,1183.08 h8.7 M117.8,1162.92 h8.7 M117.8,1142.76 h8.7 M117.8,1122.6 h11.9 M117.8,1102.44 h8.7 M117.8,1082.28 h8.7 M117.8,1062.12 h8.7 M117.8,1041.96 h8.7 M117.8,1021.8 h11.9 M117.8,1001.64 h8.7 M117.8,981.48 h8.7 M117.8,961.32 h8.7 M117.8,941.16 h8.7 M117.8,921 h11.9 M117.8,900.84 h8.7 M117.8,880.68 h8.7 M117.8,860.52 h8.7 M117.8,840.36 h8.7 M117.8,820.2 h11.9 M117.8,800.04 h8.7 M117.8,779.88 h8.7" stroke="#000" stroke-width="3.1" fill="none"/>
<path d="M143.55,1324.2 v-10 M159.08,1324.2 v-10 M170.1,1324.2 v-10 M178.65,1324.2 v-10 M185.63,1324.2 v-10 M191.54,1324.2 v-10 M196.65,1324.2 v-10 M201.16,1324.2 v-10 M205.2,1324.2 v-10 M231.75,1324.2 v-10 M247.28,1324.2 v-10 M258.3,1324.2 v-10 M266.85,1324.2 v-10 M273.83,1324.2 v-10 M279.74,1324.2 v-10 M284.85,1324.2 v-10 M289.36,1324.2 v-10 M293.4,1324.2 v-13.2 M319.95,1324.2 v-10 M335.48,1324.2 v-10 M346.5,1324.2 v-10 M355.05,1324.2 v-10 M362.03,1324.2 v-10 M367.94,1324.2 v-10 M373.05,1324.2 v-10 M377.56,1324.2 v-10 M381.6,1324.2 v-10 M408.15,1324.2 v-10 M423.68,1324.2 v-10 M434.7,1324.2 v-10 M443.25,1324.2 v-10 M450.23,1324.2 v-10 M456.14,1324.2 v-10 M461.25,1324.2 v-10 M465.76,1324.2 v-10 M469.8,1324.2 v-13.2 M496.35,1324.2 v-10 M511.88,1324.2 v-10 M522.9,1324.2 v-10 M531.45,1324.2 v-10 M538.43,1324.2 v-10 M544.34,1324.2 v-10 M549.45,1324.2 v-10 M553.96,1324.2 v-10 M558,1324.2 v-10 M584.55,1324.2 v-10 M600.08,1324.2 v-10 M611.1,1324.2 v-10 M619.65,1324.2 v-10 M626.63,1324.2 v-10 M632.54,1324.2 v-10 M637.65,1324.2 v-10 M642.16,1324.2 v-10 M646.2,1324.2 v-13.2 M672.75,1324.2 v-10 M688.28,1324.2 v-10 M699.3,1324.2 v-10 M707.85,1324.2 v-10 M714.83,1324.2 v-10 M720.74,1324.2 v-10 M725.85,1324.2 v-10 M730.36,1324.2 v-10" stroke="#000" stroke-width="3.2" fill="none"/>
<text x="82" y="1335" font-family="Liberation Sans, sans-serif" font-size="34.2" font-weight="bold" fill="#686868" text-anchor="end">1</text>
<text x="82" y="1234.2" font-family="Liberation Sans, sans-serif" font-size="34.2" font-weight="bold" fill="#686868" text-anchor="end">2</text>
<text x="82" y="1133.4" font-family="Liberation Sans, sans-serif" font-size="34.2" font-weight="bold" fill="#686868" text-anchor="end">3</text>
<text x="82" y="1032.6" font-family="Liberation Sans, sans-serif" font-size="34.2" font-weight="bold" fill="#686868" text-anchor="end">4</text>
<text x="82" y="931.8" font-family="Liberation Sans, sans-serif" font-size="34.2" font-weight="bold" fill="#686868" text-anchor="end">5</text>
<text x="82" y="831" font-family="Liberation Sans, sans-serif" font-size="34.2" font-weight="bold" fill="#686868" text-anchor="end">6</text>
<text x="117" y="1385" font-family="Liberation Sans, sans-serif" font-size="35.5" font-weight="bold" fill="#686868" text-anchor="middle" textLength="148" lengthAdjust="spacingAndGlyphs">1.00E+02</text>
<text x="293.4" y="1385" font-family="Liberation Sans, sans-serif" font-size="35.5" font-weight="bold" fill="#686868" text-anchor="middle" textLength="148" lengthAdjust="spacingAndGlyphs">1.00E+04</text>
<text x="469.8" y="1385" font-family="Liberation Sans, sans-serif" font-size="35.5" font-weight="bold" fill="#686868" text-anchor="middle" textLength="148" lengthAdjust="spacingAndGlyphs">1.00E+06</text>
<text x="646.2" y="1385" font-family="Liberation Sans, sans-serif" font-size="35.5" font-weight="bold" fill="#686868" text-anchor="middle" textLength="148" lengthAdjust="spacingAndGlyphs">1.00E+08</text>
<text x="399.3" y="1448.2" font-family="Liberation Serif, serif" font-size="44.5" font-weight="bold" fill="#686868" text-anchor="start" textLength="54.4" lengthAdjust="spacingAndGlyphs">Ra</text>
<g transform="translate(27.6,1106.4) rotate(-90)">
<text x="0" y="0" font-family="Liberation Serif, serif" font-weight="bold" fill="#686868" font-size="38.5">Nu<tspan font-size="27" dy="9">m</tspan></text>
</g>
<text transform="translate(224.42,873) scale(1.148,1)" font-family="Liberation Sans, sans-serif" font-weight="bold" font-style="italic" fill="#686868" font-size="36.1">&#966;</text>
<path d="M254.8,859.4 H270.5 M254.8,866.6 H270.5" stroke="#686868" stroke-width="3.0" fill="none"/>
<text x="273.64" y="873" font-family="Liberation Sans, sans-serif" font-size="33" font-weight="bold" fill="#686868" text-anchor="start" textLength="47.72" lengthAdjust="spacingAndGlyphs">0.1</text>
<text x="336" y="1491.5" font-family="Liberation Serif, serif" font-size="33" font-weight="normal" fill="#000" text-anchor="start" textLength="42.5" lengthAdjust="spacingAndGlyphs">(b)</text>
<text x="385.5" y="1491.5" font-family="Liberation Serif, serif" font-style="italic" fill="#000" font-size="36.96">&#966;</text>
<path d="M422,1477 h21.7 M422,1484.5 h21.7" stroke="#000" stroke-width="2.1"/>
<text x="458" y="1491.5" font-family="Liberation Serif, serif" font-size="33" font-weight="normal" fill="#000" text-anchor="start" textLength="45" lengthAdjust="spacingAndGlyphs">0.1</text>
<path d="M514.3,788 H597.1" fill="none" stroke="#14a7e0" stroke-width="4.5" stroke-dasharray="10.2 9.6" stroke-linecap="round" stroke-linejoin="round"/>
<circle cx="554.6" cy="788" r="8.8" fill="#14a7e0"/>
<text x="605.6" y="797.6" font-family="Liberation Sans, sans-serif" font-size="25" font-weight="bold" fill="#686868" text-anchor="start" textLength="26.03" lengthAdjust="spacingAndGlyphs">M</text>
<text x="636.19 651.03 665.77 674.01 687.94 704.41" y="797.6" font-family="Liberation Sans, sans-serif" font-size="25" font-weight="bold" fill="#686868">1,I.C.</text>
<path d="M514.3,821.49 H597.1" fill="none" stroke="#f5852e" stroke-width="4.5" stroke-dasharray="10.2 9.6" stroke-linecap="round" stroke-linejoin="round"/>
<circle cx="554.6" cy="821.49" r="8.8" fill="#f5852e"/>
<text x="605.6" y="831.09" font-family="Liberation Sans, sans-serif" font-size="25" font-weight="bold" fill="#686868" text-anchor="start" textLength="26.03" lengthAdjust="spacingAndGlyphs">M</text>
<text x="636.19 651.03 665.77 674.01 687.94 704.41" y="831.09" font-family="Liberation Sans, sans-serif" font-size="25" font-weight="bold" fill="#686868">2,I.C.</text>
<path d="M514.3,854.98 H597.1" fill="none" stroke="#60b450" stroke-width="4.5" stroke-dasharray="10.2 9.6" stroke-linecap="round" stroke-linejoin="round"/>
<circle cx="554.6" cy="854.98" r="8.8" fill="#60b450"/>
<text x="605.6" y="864.58" font-family="Liberation Sans, sans-serif" font-size="25" font-weight="bold" fill="#686868" text-anchor="start" textLength="26.03" lengthAdjust="spacingAndGlyphs">M</text>
<text x="636.19 651.03 665.77 674.01 687.94 704.41" y="864.58" font-family="Liberation Sans, sans-serif" font-size="25" font-weight="bold" fill="#686868">3,I.C.</text>
<path d="M514.3,888.47 H597.1" fill="none" stroke="#ffc000" stroke-width="4.5" stroke-dasharray="10.2 9.6" stroke-linecap="round" stroke-linejoin="round"/>
<circle cx="554.6" cy="888.47" r="8.8" fill="#ffc000"/>
<text x="605.6" y="898.07" font-family="Liberation Sans, sans-serif" font-size="25" font-weight="bold" fill="#686868" text-anchor="start" textLength="26.03" lengthAdjust="spacingAndGlyphs">M</text>
<text x="636.19 651.03 665.77 674.01 687.94 704.41" y="898.07" font-family="Liberation Sans, sans-serif" font-size="25" font-weight="bold" fill="#686868">4,I.C.</text>
<path d="M514.3,921.96 H597.1" fill="none" stroke="#0b82d3" stroke-width="4.5" stroke-dasharray="10.2 9.6" stroke-linecap="round" stroke-linejoin="round"/>
<circle cx="554.6" cy="921.96" r="8.8" fill="#0b82d3"/>
<text x="605.6" y="931.56" font-family="Liberation Sans, sans-serif" font-size="25" font-weight="bold" fill="#686868" text-anchor="start" textLength="26.03" lengthAdjust="spacingAndGlyphs">M</text>
<text x="636.19 651.03 665.77 674.01 687.94 704.41" y="931.56" font-family="Liberation Sans, sans-serif" font-size="25" font-weight="bold" fill="#686868">5,I.C.</text>
<path d="M514.3,955.45 H597.1" fill="none" stroke="#8b46b7" stroke-width="4.5" stroke-dasharray="10.2 9.6" stroke-linecap="round" stroke-linejoin="round"/>
<circle cx="554.6" cy="955.45" r="8.8" fill="#8b46b7"/>
<text x="605.6" y="965.05" font-family="Liberation Sans, sans-serif" font-size="25" font-weight="bold" fill="#686868" text-anchor="start" textLength="26.03" lengthAdjust="spacingAndGlyphs">M</text>
<text x="636.19 651.03 665.77 674.01 687.94 704.41" y="965.05" font-family="Liberation Sans, sans-serif" font-size="25" font-weight="bold" fill="#686868">6,I.C.</text>
<path d="M514.3,988.94 H597.1" fill="none" stroke="#f80000" stroke-width="4.5" stroke-dasharray="10.2 9.6" stroke-linecap="round" stroke-linejoin="round"/>
<circle cx="554.6" cy="988.94" r="8.8" fill="#f80000"/>
<text x="605.6" y="998.54" font-family="Liberation Sans, sans-serif" font-size="25" font-weight="bold" fill="#686868" text-anchor="start" textLength="26.03" lengthAdjust="spacingAndGlyphs">M</text>
<text x="636.19 651.03 665.77 674.01 687.94 704.41" y="998.54" font-family="Liberation Sans, sans-serif" font-size="25" font-weight="bold" fill="#686868">7,I.C.</text>
<path d="M514.3,1022.43 H597.1" fill="none" stroke="#222222" stroke-width="4.5" stroke-dasharray="10.2 9.6" stroke-linecap="round" stroke-linejoin="round"/>
<circle cx="554.6" cy="1022.43" r="8.8" fill="#222222"/>
<text x="605.6" y="1032.03" font-family="Liberation Sans, sans-serif" font-size="25" font-weight="bold" fill="#686868" text-anchor="start" textLength="26.03" lengthAdjust="spacingAndGlyphs">M</text>
<text x="636.19 651.03 665.77 674.01 687.94 704.41" y="1032.03" font-family="Liberation Sans, sans-serif" font-size="25" font-weight="bold" fill="#686868">8,I.C.</text>
<path d="M514.7,1055.92 H594" fill="none" stroke="#14a7e0" stroke-width="4.3" stroke-dasharray="0.01 9.65" stroke-linecap="round" stroke-linejoin="round"/>
<circle cx="554.6" cy="1055.92" r="7.75" fill="#fff" stroke="#14a7e0" stroke-width="2.1"/>
<text x="605.6" y="1065.52" font-family="Liberation Sans, sans-serif" font-size="25" font-weight="bold" fill="#686868" text-anchor="start" textLength="26.03" lengthAdjust="spacingAndGlyphs">M</text>
<text x="636.19 650.63 665.57 682.75 697.7 714.77" y="1065.52" font-family="Liberation Sans, sans-serif" font-size="25" font-weight="bold" fill="#686868">1,O.C.</text>
<path d="M514.7,1089.41 H594" fill="none" stroke="#f5852e" stroke-width="4.3" stroke-dasharray="0.01 9.65" stroke-linecap="round" stroke-linejoin="round"/>
<circle cx="554.6" cy="1089.41" r="7.75" fill="#fff" stroke="#f5852e" stroke-width="2.1"/>
<text x="605.6" y="1099.01" font-family="Liberation Sans, sans-serif" font-size="25" font-weight="bold" fill="#686868" text-anchor="start" textLength="26.03" lengthAdjust="spacingAndGlyphs">M</text>
<text x="636.29 650.63 657.84 672.79 690.68 705.73 723.72" y="1099.01" font-family="Liberation Sans, sans-serif" font-size="25" font-weight="bold" fill="#686868">2,,O.C.</text>
<path d="M514.7,1122.9 H594" fill="none" stroke="#60b450" stroke-width="4.3" stroke-dasharray="0.01 9.65" stroke-linecap="round" stroke-linejoin="round"/>
<circle cx="554.6" cy="1122.9" r="7.75" fill="#fff" stroke="#60b450" stroke-width="2.1"/>
<text x="605.6" y="1132.5" font-family="Liberation Sans, sans-serif" font-size="25" font-weight="bold" fill="#686868" text-anchor="start" textLength="26.03" lengthAdjust="spacingAndGlyphs">M</text>
<text x="636.19 650.63 665.57 682.75 697.7 714.77" y="1132.5" font-family="Liberation Sans, sans-serif" font-size="25" font-weight="bold" fill="#686868">3,O.C.</text>
<path d="M514.7,1156.39 H594" fill="none" stroke="#ffc000" stroke-width="4.3" stroke-dasharray="0.01 9.65" stroke-linecap="round" stroke-linejoin="round"/>
<circle cx="554.6" cy="1156.39" r="7.75" fill="#fff" stroke="#ffc000" stroke-width="2.1"/>
<text x="605.6" y="1165.99" font-family="Liberation Sans, sans-serif" font-size="25" font-weight="bold" fill="#686868" text-anchor="start" textLength="26.03" lengthAdjust="spacingAndGlyphs">M</text>
<text x="636.19 650.63 665.57 682.75 697.7 714.77" y="1165.99" font-family="Liberation Sans, sans-serif" font-size="25" font-weight="bold" fill="#686868">4,O.C.</text>
<path d="M514.7,1189.88 H594" fill="none" stroke="#0b82d3" stroke-width="4.3" stroke-dasharray="0.01 9.65" stroke-linecap="round" stroke-linejoin="round"/>
<circle cx="554.6" cy="1189.88" r="7.75" fill="#fff" stroke="#0b82d3" stroke-width="2.1"/>
<text x="605.6" y="1199.48" font-family="Liberation Sans, sans-serif" font-size="25" font-weight="bold" fill="#686868" text-anchor="start" textLength="26.03" lengthAdjust="spacingAndGlyphs">M</text>
<text x="636.19 650.63 665.57 682.75 697.7 714.77" y="1199.48" font-family="Liberation Sans, sans-serif" font-size="25" font-weight="bold" fill="#686868">5,O.C.</text>
<path d="M514.7,1223.37 H594" fill="none" stroke="#8b46b7" stroke-width="4.3" stroke-dasharray="0.01 9.65" stroke-linecap="round" stroke-linejoin="round"/>
<circle cx="554.6" cy="1223.37" r="7.75" fill="#fff" stroke="#8b46b7" stroke-width="2.1"/>
<text x="605.6" y="1232.97" font-family="Liberation Sans, sans-serif" font-size="25" font-weight="bold" fill="#686868" text-anchor="start" textLength="26.03" lengthAdjust="spacingAndGlyphs">M</text>
<text x="636.19 650.63 665.57 682.75 697.7 714.77" y="1232.97" font-family="Liberation Sans, sans-serif" font-size="25" font-weight="bold" fill="#686868">6,O.C.</text>
<path d="M514.7,1256.86 H594" fill="none" stroke="#f80000" stroke-width="4.3" stroke-dasharray="0.01 9.65" stroke-linecap="round" stroke-linejoin="round"/>
<circle cx="554.6" cy="1256.86" r="7.75" fill="#fff" stroke="#f80000" stroke-width="2.1"/>
<text x="605.6" y="1266.46" font-family="Liberation Sans, sans-serif" font-size="25" font-weight="bold" fill="#686868" text-anchor="start" textLength="26.03" lengthAdjust="spacingAndGlyphs">M</text>
<text x="636.19 650.63 665.57 682.75 697.7 714.77" y="1266.46" font-family="Liberation Sans, sans-serif" font-size="25" font-weight="bold" fill="#686868">7,O.C.</text>
<path d="M514.7,1290.35 H594" fill="none" stroke="#222222" stroke-width="4.3" stroke-dasharray="0.01 9.65" stroke-linecap="round" stroke-linejoin="round"/>
<circle cx="554.6" cy="1290.35" r="7.75" fill="#fff" stroke="#222222" stroke-width="2.1"/>
<text x="605.6" y="1299.95" font-family="Liberation Sans, sans-serif" font-size="25" font-weight="bold" fill="#686868" text-anchor="start" textLength="26.03" lengthAdjust="spacingAndGlyphs">M</text>
<text x="636.19 650.63 665.57 682.75 697.7 714.77" y="1299.95" font-family="Liberation Sans, sans-serif" font-size="25" font-weight="bold" fill="#686868">8,O.C.</text>
<clipPath id="clip3"><rect x="113" y="1505.8" width="637" height="574.4"/></clipPath>
<g clip-path="url(#clip3)">
<path d="M211.8,1867.3 C226.37,1867.3 270.07,1874.87 299.2,1867.3 C328.33,1859.74 357.47,1864.41 386.6,1821.9 C415.73,1779.38 459.43,1647.14 474,1612.19" fill="none" stroke="#f5852e" stroke-width="4.5" stroke-dasharray="10.2 9.6" stroke-linecap="round" stroke-linejoin="round"/>
<circle cx="211.8" cy="1867.3" r="8.8" fill="#f5852e"/>
<circle cx="299.2" cy="1867.3" r="8.8" fill="#f5852e"/>
<circle cx="386.6" cy="1821.9" r="8.8" fill="#f5852e"/>
<circle cx="474" cy="1612.19" r="8.8" fill="#f5852e"/>
<path d="M211.8,1850.52 C226.37,1850.52 270.07,1855.61 299.2,1850.52 C328.33,1845.43 357.47,1861.82 386.6,1819.97 C415.73,1778.12 459.43,1636.16 474,1599.4" fill="none" stroke="#14a7e0" stroke-width="4.5" stroke-dasharray="10.2 9.6" stroke-linecap="round" stroke-linejoin="round"/>
<circle cx="211.8" cy="1850.52" r="8.8" fill="#14a7e0"/>
<circle cx="299.2" cy="1850.52" r="8.8" fill="#14a7e0"/>
<circle cx="386.6" cy="1819.97" r="8.8" fill="#14a7e0"/>
<circle cx="474" cy="1599.4" r="8.8" fill="#14a7e0"/>
<path d="M211.8,1897.71 C226.37,1897.71 270.07,1902.9 299.2,1897.71 C328.33,1892.53 357.47,1909.4 386.6,1866.62 C415.73,1823.83 459.43,1678.62 474,1641.02" fill="none" stroke="#60b450" stroke-width="4.5" stroke-dasharray="10.2 9.6" stroke-linecap="round" stroke-linejoin="round"/>
<circle cx="211.8" cy="1897.71" r="8.8" fill="#60b450"/>
<circle cx="299.2" cy="1897.71" r="8.8" fill="#60b450"/>
<circle cx="386.6" cy="1866.62" r="8.8" fill="#60b450"/>
<circle cx="474" cy="1641.02" r="8.8" fill="#60b450"/>
<path d="M211.8,1896.41 C226.37,1896.41 270.07,1899.81 299.2,1896.41 C328.33,1893 357.47,1919.49 386.6,1875.97 C415.73,1832.46 459.43,1675.42 474,1635.31" fill="none" stroke="#ffc000" stroke-width="4.5" stroke-dasharray="10.2 9.6" stroke-linecap="round" stroke-linejoin="round"/>
<circle cx="211.8" cy="1896.41" r="8.8" fill="#ffc000"/>
<circle cx="299.2" cy="1896.41" r="8.8" fill="#ffc000"/>
<circle cx="386.6" cy="1875.97" r="8.8" fill="#ffc000"/>
<circle cx="474" cy="1635.31" r="8.8" fill="#ffc000"/>
<path d="M211.8,1857.33 C226.37,1857.33 270.07,1869.38 299.2,1857.33 C328.33,1845.28 357.47,1836.33 386.6,1785.02 C415.73,1733.71 459.43,1588.71 474,1549.45" fill="none" stroke="#124e82" stroke-width="4.5" stroke-dasharray="10.2 9.6" stroke-linecap="round" stroke-linejoin="round"/>
<circle cx="211.8" cy="1857.33" r="7.9" fill="#0b82d3" stroke="#124e82" stroke-width="1.8"/>
<circle cx="299.2" cy="1857.33" r="7.9" fill="#0b82d3" stroke="#124e82" stroke-width="1.8"/>
<circle cx="386.6" cy="1785.02" r="7.9" fill="#0b82d3" stroke="#124e82" stroke-width="1.8"/>
<circle cx="474" cy="1549.45" r="7.9" fill="#0b82d3" stroke="#124e82" stroke-width="1.8"/>
<path d="M211.8,1865.24 C226.37,1865.24 270.07,1876.73 299.2,1865.24 C328.33,1853.75 357.47,1849.05 386.6,1796.3 C415.73,1743.56 459.43,1590.02 474,1548.76" fill="none" stroke="#f80000" stroke-width="4.5" stroke-dasharray="10.2 9.6" stroke-linecap="round" stroke-linejoin="round"/>
<circle cx="211.8" cy="1865.24" r="8.8" fill="#f80000"/>
<circle cx="299.2" cy="1865.24" r="8.8" fill="#f80000"/>
<circle cx="386.6" cy="1796.3" r="8.8" fill="#f80000"/>
<circle cx="474" cy="1548.76" r="8.8" fill="#f80000"/>
<path d="M211.8,1868.27 C226.37,1868.27 270.07,1878.12 299.2,1868.27 C328.33,1858.42 357.47,1862.3 386.6,1809.17 C415.73,1756.03 459.43,1592.73 474,1549.45" fill="none" stroke="#222222" stroke-width="4.5" stroke-dasharray="10.2 9.6" stroke-linecap="round" stroke-linejoin="round"/>
<circle cx="211.8" cy="1868.27" r="8.8" fill="#222222"/>
<circle cx="299.2" cy="1868.27" r="8.8" fill="#222222"/>
<circle cx="386.6" cy="1809.17" r="8.8" fill="#222222"/>
<circle cx="474" cy="1549.45" r="8.8" fill="#222222"/>
<path d="M211.8,1875.97 C226.37,1875.97 270.07,1882.72 299.2,1875.97 C328.33,1869.23 357.47,1890.23 386.6,1835.52 C415.73,1780.81 459.43,1595.69 474,1547.73" fill="none" stroke="#f80000" stroke-width="4.5" stroke-dasharray="10.2 9.6" stroke-linecap="round" stroke-linejoin="round"/>
<circle cx="211.8" cy="1875.97" r="8.8" fill="#f80000"/>
<circle cx="299.2" cy="1875.97" r="8.8" fill="#f80000"/>
<circle cx="386.6" cy="1835.52" r="8.8" fill="#f80000"/>
<circle cx="474" cy="1547.73" r="8.8" fill="#f80000"/>
<path d="M211.8,1971.88 C226.37,1971.88 270.07,1973.6 299.2,1971.88 C328.33,1970.16 357.47,1978.42 386.6,1961.56 C415.73,1944.7 459.43,1885.88 474,1870.74" fill="none" stroke="#14a7e0" stroke-width="3.9" stroke-dasharray="0.01 9.65" stroke-linecap="round" stroke-linejoin="round"/>
<circle cx="211.8" cy="1971.88" r="7.35" fill="#fff" stroke="#14a7e0" stroke-width="1.9"/>
<circle cx="299.2" cy="1971.88" r="7.35" fill="#fff" stroke="#14a7e0" stroke-width="1.9"/>
<circle cx="386.6" cy="1961.56" r="7.35" fill="#fff" stroke="#14a7e0" stroke-width="1.9"/>
<circle cx="474" cy="1870.74" r="7.35" fill="#fff" stroke="#14a7e0" stroke-width="1.9"/>
<path d="M211.8,1970.5 C226.37,1970.5 270.07,1972.34 299.2,1970.5 C328.33,1968.67 357.47,1977.04 386.6,1959.5 C415.73,1941.95 459.43,1880.95 474,1865.24" fill="none" stroke="#f5852e" stroke-width="3.9" stroke-dasharray="0.01 9.65" stroke-linecap="round" stroke-linejoin="round"/>
<circle cx="211.8" cy="1970.5" r="7.35" fill="#fff" stroke="#f5852e" stroke-width="1.9"/>
<circle cx="299.2" cy="1970.5" r="7.35" fill="#fff" stroke="#f5852e" stroke-width="1.9"/>
<circle cx="386.6" cy="1959.5" r="7.35" fill="#fff" stroke="#f5852e" stroke-width="1.9"/>
<circle cx="474" cy="1865.24" r="7.35" fill="#fff" stroke="#f5852e" stroke-width="1.9"/>
<path d="M211.8,1979.79 C226.37,1979.79 270.07,1981.57 299.2,1979.79 C328.33,1978.01 357.47,1988.79 386.6,1969.13 C415.73,1949.46 459.43,1879.69 474,1861.8" fill="none" stroke="#60b450" stroke-width="3.9" stroke-dasharray="0.01 9.65" stroke-linecap="round" stroke-linejoin="round"/>
<circle cx="211.8" cy="1979.79" r="7.35" fill="#fff" stroke="#60b450" stroke-width="1.9"/>
<circle cx="299.2" cy="1979.79" r="7.35" fill="#fff" stroke="#60b450" stroke-width="1.9"/>
<circle cx="386.6" cy="1969.13" r="7.35" fill="#fff" stroke="#60b450" stroke-width="1.9"/>
<circle cx="474" cy="1861.8" r="7.35" fill="#fff" stroke="#60b450" stroke-width="1.9"/>
<path d="M211.8,1976.01 C226.37,1976.01 270.07,1977.44 299.2,1976.01 C328.33,1974.57 357.47,1987.07 386.6,1967.41 C415.73,1947.74 459.43,1876.25 474,1858.02" fill="none" stroke="#ffc000" stroke-width="3.9" stroke-dasharray="0.01 9.65" stroke-linecap="round" stroke-linejoin="round"/>
<circle cx="211.8" cy="1976.01" r="7.35" fill="#fff" stroke="#ffc000" stroke-width="1.9"/>
<circle cx="299.2" cy="1976.01" r="7.35" fill="#fff" stroke="#ffc000" stroke-width="1.9"/>
<circle cx="386.6" cy="1967.41" r="7.35" fill="#fff" stroke="#ffc000" stroke-width="1.9"/>
<circle cx="474" cy="1858.02" r="7.35" fill="#fff" stroke="#ffc000" stroke-width="1.9"/>
<path d="M211.8,1969.82 C226.37,1969.82 270.07,1971.99 299.2,1969.82 C328.33,1967.64 357.47,1973.21 386.6,1956.74 C415.73,1940.28 459.43,1885.31 474,1871.02" fill="none" stroke="#124e82" stroke-width="3.9" stroke-dasharray="0.01 9.65" stroke-linecap="round" stroke-linejoin="round"/>
<circle cx="211.8" cy="1969.82" r="7.35" fill="#fff" stroke="#124e82" stroke-width="1.9"/>
<circle cx="299.2" cy="1969.82" r="7.35" fill="#fff" stroke="#124e82" stroke-width="1.9"/>
<circle cx="386.6" cy="1956.74" r="7.35" fill="#fff" stroke="#124e82" stroke-width="1.9"/>
<circle cx="474" cy="1871.02" r="7.35" fill="#fff" stroke="#124e82" stroke-width="1.9"/>
<path d="M211.8,1956.19 C226.37,1956.19 270.07,1958.4 299.2,1956.19 C328.33,1953.99 357.47,1957.82 386.6,1942.98 C415.73,1928.15 459.43,1879.8 474,1867.17" fill="none" stroke="#f80000" stroke-width="3.9" stroke-dasharray="0.01 9.65" stroke-linecap="round" stroke-linejoin="round"/>
<circle cx="211.8" cy="1956.19" r="7.35" fill="#fff" stroke="#f80000" stroke-width="1.9"/>
<circle cx="299.2" cy="1956.19" r="7.35" fill="#fff" stroke="#f80000" stroke-width="1.9"/>
<circle cx="386.6" cy="1942.98" r="7.35" fill="#fff" stroke="#f80000" stroke-width="1.9"/>
<circle cx="474" cy="1867.17" r="7.35" fill="#fff" stroke="#f80000" stroke-width="1.9"/>
<path d="M211.8,1956.19 C226.37,1956.19 270.07,1958.4 299.2,1956.19 C328.33,1953.99 357.47,1957.82 386.6,1942.98 C415.73,1928.15 459.43,1879.8 474,1867.17" fill="none" stroke="#f80000" stroke-width="3.9" stroke-dasharray="0.01 9.65" stroke-linecap="round" stroke-linejoin="round"/>
<circle cx="211.8" cy="1956.19" r="7.35" fill="#fff" stroke="#f80000" stroke-width="1.9"/>
<circle cx="299.2" cy="1956.19" r="7.35" fill="#fff" stroke="#f80000" stroke-width="1.9"/>
<circle cx="386.6" cy="1942.98" r="7.35" fill="#fff" stroke="#f80000" stroke-width="1.9"/>
<circle cx="474" cy="1867.17" r="7.35" fill="#fff" stroke="#f80000" stroke-width="1.9"/>
<path d="M211.8,1970.02 C226.37,1970.02 270.07,1972.92 299.2,1970.02 C328.33,1967.12 357.47,1972.27 386.6,1952.62 C415.73,1932.96 459.43,1868.85 474,1852.1" fill="none" stroke="#222222" stroke-width="3.9" stroke-dasharray="0.01 9.65" stroke-linecap="round" stroke-linejoin="round"/>
<circle cx="211.8" cy="1970.02" r="7.35" fill="#fff" stroke="#222222" stroke-width="1.9"/>
<circle cx="299.2" cy="1970.02" r="7.35" fill="#fff" stroke="#222222" stroke-width="1.9"/>
<circle cx="386.6" cy="1952.62" r="7.35" fill="#fff" stroke="#222222" stroke-width="1.9"/>
<circle cx="474" cy="1852.1" r="7.35" fill="#fff" stroke="#222222" stroke-width="1.9"/>
</g>
<path d="M125,1516.15 V2069.75" stroke="#000" stroke-width="4.1" fill="none"/>
<path d="M738,1516.15 V2069.75" stroke="#000" stroke-width="3.3" fill="none"/>
<path d="M122.95,1517.8 H739.65" stroke="#000" stroke-width="3.3" fill="none"/>
<path d="M122.95,2068.2 H739.65" stroke="#000" stroke-width="3.1" fill="none"/>
<path d="M125,2054.44 h8.7 M125,2040.68 h8.7 M125,2026.92 h8.7 M125,2013.16 h8.7 M125,1999.4 h11.9 M125,1985.64 h8.7 M125,1971.88 h8.7 M125,1958.12 h8.7 M125,1944.36 h8.7 M125,1930.6 h11.9 M125,1916.84 h8.7 M125,1903.08 h8.7 M125,1889.32 h8.7 M125,1875.56 h8.7 M125,1861.8 h11.9 M125,1848.04 h8.7 M125,1834.28 h8.7 M125,1820.52 h8.7 M125,1806.76 h8.7 M125,1793 h11.9 M125,1779.24 h8.7 M125,1765.48 h8.7 M125,1751.72 h8.7 M125,1737.96 h8.7 M125,1724.2 h11.9 M125,1710.44 h8.7 M125,1696.68 h8.7 M125,1682.92 h8.7 M125,1669.16 h8.7 M125,1655.4 h11.9 M125,1641.64 h8.7 M125,1627.88 h8.7 M125,1614.12 h8.7 M125,1600.36 h8.7 M125,1586.6 h11.9 M125,1572.84 h8.7 M125,1559.08 h8.7 M125,1545.32 h8.7 M125,1531.56 h8.7" stroke="#000" stroke-width="3.1" fill="none"/>
<path d="M150.94,2068.2 v-10 M166.35,2068.2 v-10 M177.28,2068.2 v-10 M185.76,2068.2 v-10 M192.69,2068.2 v-10 M198.55,2068.2 v-10 M203.62,2068.2 v-10 M208.1,2068.2 v-10 M212.1,2068.2 v-10 M238.44,2068.2 v-10 M253.85,2068.2 v-10 M264.78,2068.2 v-10 M273.26,2068.2 v-10 M280.19,2068.2 v-10 M286.05,2068.2 v-10 M291.12,2068.2 v-10 M295.6,2068.2 v-10 M299.6,2068.2 v-13.2 M325.94,2068.2 v-10 M341.35,2068.2 v-10 M352.28,2068.2 v-10 M360.76,2068.2 v-10 M367.69,2068.2 v-10 M373.55,2068.2 v-10 M378.62,2068.2 v-10 M383.1,2068.2 v-10 M387.1,2068.2 v-10 M413.44,2068.2 v-10 M428.85,2068.2 v-10 M439.78,2068.2 v-10 M448.26,2068.2 v-10 M455.19,2068.2 v-10 M461.05,2068.2 v-10 M466.12,2068.2 v-10 M470.6,2068.2 v-10 M474.6,2068.2 v-13.2 M500.94,2068.2 v-10 M516.35,2068.2 v-10 M527.28,2068.2 v-10 M535.76,2068.2 v-10 M542.69,2068.2 v-10 M548.55,2068.2 v-10 M553.62,2068.2 v-10 M558.1,2068.2 v-10 M562.1,2068.2 v-10 M588.44,2068.2 v-10 M603.85,2068.2 v-10 M614.78,2068.2 v-10 M623.26,2068.2 v-10 M630.19,2068.2 v-10 M636.05,2068.2 v-10 M641.12,2068.2 v-10 M645.6,2068.2 v-10 M649.6,2068.2 v-13.2 M675.94,2068.2 v-10 M691.35,2068.2 v-10 M702.28,2068.2 v-10 M710.76,2068.2 v-10 M717.69,2068.2 v-10 M723.55,2068.2 v-10 M728.62,2068.2 v-10 M733.1,2068.2 v-10" stroke="#000" stroke-width="3.2" fill="none"/>
<text x="90" y="2079" font-family="Liberation Sans, sans-serif" font-size="34.2" font-weight="bold" fill="#686868" text-anchor="end">1</text>
<text x="90" y="2010.2" font-family="Liberation Sans, sans-serif" font-size="34.2" font-weight="bold" fill="#686868" text-anchor="end">2</text>
<text x="90" y="1941.4" font-family="Liberation Sans, sans-serif" font-size="34.2" font-weight="bold" fill="#686868" text-anchor="end">3</text>
<text x="90" y="1872.6" font-family="Liberation Sans, sans-serif" font-size="34.2" font-weight="bold" fill="#686868" text-anchor="end">4</text>
<text x="90" y="1803.8" font-family="Liberation Sans, sans-serif" font-size="34.2" font-weight="bold" fill="#686868" text-anchor="end">5</text>
<text x="90" y="1735" font-family="Liberation Sans, sans-serif" font-size="34.2" font-weight="bold" fill="#686868" text-anchor="end">6</text>
<text x="90" y="1666.2" font-family="Liberation Sans, sans-serif" font-size="34.2" font-weight="bold" fill="#686868" text-anchor="end">7</text>
<text x="90" y="1597.4" font-family="Liberation Sans, sans-serif" font-size="34.2" font-weight="bold" fill="#686868" text-anchor="end">8</text>
<text x="90" y="1528.6" font-family="Liberation Sans, sans-serif" font-size="34.2" font-weight="bold" fill="#686868" text-anchor="end">9</text>
<text x="124.6" y="2127.6" font-family="Liberation Sans, sans-serif" font-size="35" font-weight="bold" fill="#686868" text-anchor="middle" textLength="146.5" lengthAdjust="spacingAndGlyphs">1.00E+02</text>
<text x="299.6" y="2127.6" font-family="Liberation Sans, sans-serif" font-size="35" font-weight="bold" fill="#686868" text-anchor="middle" textLength="146.5" lengthAdjust="spacingAndGlyphs">1.00E+04</text>
<text x="474.6" y="2127.6" font-family="Liberation Sans, sans-serif" font-size="35" font-weight="bold" fill="#686868" text-anchor="middle" textLength="146.5" lengthAdjust="spacingAndGlyphs">1.00E+06</text>
<text x="649.6" y="2127.6" font-family="Liberation Sans, sans-serif" font-size="35" font-weight="bold" fill="#686868" text-anchor="middle" textLength="146.5" lengthAdjust="spacingAndGlyphs">1.00E+08</text>
<text x="404.2" y="2192.1" font-family="Liberation Serif, serif" font-size="46" font-weight="bold" fill="#686868" text-anchor="start" textLength="54.4" lengthAdjust="spacingAndGlyphs">Ra</text>
<g transform="translate(35.3,1851.9) rotate(-90)">
<text x="0" y="0" font-family="Liberation Serif, serif" font-weight="bold" fill="#686868" font-size="38.5">Nu<tspan font-size="27" dy="9">m</tspan></text>
</g>
<text transform="translate(223.58,1604.3) scale(1.182,1)" font-family="Liberation Sans, sans-serif" font-weight="bold" font-style="italic" fill="#686868" font-size="36.1">&#966;</text>
<path d="M254,1590.7 H269.7 M254,1597.9 H269.7" stroke="#686868" stroke-width="3.0" fill="none"/>
<text x="272.42" y="1604.3" font-family="Liberation Sans, sans-serif" font-size="33" font-weight="bold" fill="#686868" text-anchor="start" textLength="67.75" lengthAdjust="spacingAndGlyphs">0.25</text>
<text x="325.5" y="2243.6" font-family="Liberation Serif, serif" font-size="34" font-weight="normal" fill="#000" text-anchor="start" textLength="41" lengthAdjust="spacingAndGlyphs">(c)</text>
<text x="390.5" y="2243.6" font-family="Liberation Serif, serif" font-style="italic" fill="#000" font-size="38.080000000000005">&#966;</text>
<path d="M426.7,2229.1 h23.2 M426.7,2236.6 h23.2" stroke="#000" stroke-width="2.1"/>
<text x="464" y="2243.6" font-family="Liberation Serif, serif" font-size="34" font-weight="normal" fill="#000" text-anchor="start" textLength="63.3" lengthAdjust="spacingAndGlyphs">0.25</text>
<path d="M519.1,1535.6 H600.8" fill="none" stroke="#14a7e0" stroke-width="4.5" stroke-dasharray="10.2 9.6" stroke-linecap="round" stroke-linejoin="round"/>
<circle cx="558.8" cy="1535.6" r="8.8" fill="#14a7e0"/>
<text x="610.2" y="1545.2" font-family="Liberation Sans, sans-serif" font-size="25" font-weight="bold" fill="#686868" text-anchor="start" textLength="25.6" lengthAdjust="spacingAndGlyphs">M</text>
<text x="640.3 654.9 669.4 677.5 691.2 707.4" y="1545.2" font-family="Liberation Sans, sans-serif" font-size="25" font-weight="bold" fill="#686868">1,I.C.</text>
<path d="M519.1,1568.77 H600.8" fill="none" stroke="#f5852e" stroke-width="4.5" stroke-dasharray="10.2 9.6" stroke-linecap="round" stroke-linejoin="round"/>
<circle cx="558.8" cy="1568.77" r="8.8" fill="#f5852e"/>
<text x="610.2" y="1578.37" font-family="Liberation Sans, sans-serif" font-size="25" font-weight="bold" fill="#686868" text-anchor="start" textLength="25.6" lengthAdjust="spacingAndGlyphs">M</text>
<text x="640.3 654.9 669.4 677.5 691.2 707.4" y="1578.37" font-family="Liberation Sans, sans-serif" font-size="25" font-weight="bold" fill="#686868">2,I.C.</text>
<path d="M519.1,1601.94 H600.8" fill="none" stroke="#60b450" stroke-width="4.5" stroke-dasharray="10.2 9.6" stroke-linecap="round" stroke-linejoin="round"/>
<circle cx="558.8" cy="1601.94" r="8.8" fill="#60b450"/>
<text x="610.2" y="1611.54" font-family="Liberation Sans, sans-serif" font-size="25" font-weight="bold" fill="#686868" text-anchor="start" textLength="25.6" lengthAdjust="spacingAndGlyphs">M</text>
<text x="640.3 654.9 669.4 677.5 691.2 707.4" y="1611.54" font-family="Liberation Sans, sans-serif" font-size="25" font-weight="bold" fill="#686868">3,I.C.</text>
<path d="M519.1,1635.11 H600.8" fill="none" stroke="#ffc000" stroke-width="4.5" stroke-dasharray="10.2 9.6" stroke-linecap="round" stroke-linejoin="round"/>
<circle cx="558.8" cy="1635.11" r="8.8" fill="#ffc000"/>
<text x="610.2" y="1644.71" font-family="Liberation Sans, sans-serif" font-size="25" font-weight="bold" fill="#686868" text-anchor="start" textLength="25.6" lengthAdjust="spacingAndGlyphs">M</text>
<text x="640.3 654.9 669.4 677.5 691.2 707.4" y="1644.71" font-family="Liberation Sans, sans-serif" font-size="25" font-weight="bold" fill="#686868">4,I.C.</text>
<path d="M519.1,1668.28 H600.8" fill="none" stroke="#124e82" stroke-width="4.5" stroke-dasharray="10.2 9.6" stroke-linecap="round" stroke-linejoin="round"/>
<circle cx="558.8" cy="1668.28" r="7.9" fill="#0b82d3" stroke="#124e82" stroke-width="1.8"/>
<text x="610.2" y="1677.88" font-family="Liberation Sans, sans-serif" font-size="25" font-weight="bold" fill="#686868" text-anchor="start" textLength="25.6" lengthAdjust="spacingAndGlyphs">M</text>
<text x="640.3 654.9 669.4 677.5 691.2 707.4" y="1677.88" font-family="Liberation Sans, sans-serif" font-size="25" font-weight="bold" fill="#686868">5,I.C.</text>
<path d="M519.1,1701.45 H600.8" fill="none" stroke="#f80000" stroke-width="4.5" stroke-dasharray="10.2 9.6" stroke-linecap="round" stroke-linejoin="round"/>
<circle cx="558.8" cy="1701.45" r="8.8" fill="#f80000"/>
<text x="610.2" y="1711.05" font-family="Liberation Sans, sans-serif" font-size="25" font-weight="bold" fill="#686868" text-anchor="start" textLength="25.6" lengthAdjust="spacingAndGlyphs">M</text>
<text x="640.3 654.9 669.4 677.5 691.2 707.4" y="1711.05" font-family="Liberation Sans, sans-serif" font-size="25" font-weight="bold" fill="#686868">6,I.C.</text>
<path d="M519.1,1734.62 H600.8" fill="none" stroke="#222222" stroke-width="4.5" stroke-dasharray="10.2 9.6" stroke-linecap="round" stroke-linejoin="round"/>
<circle cx="558.8" cy="1734.62" r="8.8" fill="#222222"/>
<text x="610.2" y="1744.22" font-family="Liberation Sans, sans-serif" font-size="25" font-weight="bold" fill="#686868" text-anchor="start" textLength="25.6" lengthAdjust="spacingAndGlyphs">M</text>
<text x="640.3 654.9 669.4 677.5 691.2 707.4" y="1744.22" font-family="Liberation Sans, sans-serif" font-size="25" font-weight="bold" fill="#686868">7,I.C.</text>
<path d="M519.1,1767.79 H600.8" fill="none" stroke="#f80000" stroke-width="4.5" stroke-dasharray="10.2 9.6" stroke-linecap="round" stroke-linejoin="round"/>
<circle cx="558.8" cy="1767.79" r="8.8" fill="#f80000"/>
<text x="610.2" y="1777.39" font-family="Liberation Sans, sans-serif" font-size="25" font-weight="bold" fill="#686868" text-anchor="start" textLength="25.6" lengthAdjust="spacingAndGlyphs">M</text>
<text x="640.3 654.9 669.4 677.5 691.2 707.4" y="1777.39" font-family="Liberation Sans, sans-serif" font-size="25" font-weight="bold" fill="#686868">8,I.C.</text>
<path d="M519.2,1800.96 H598" fill="none" stroke="#14a7e0" stroke-width="3.9" stroke-dasharray="0.01 9.65" stroke-linecap="round" stroke-linejoin="round"/>
<circle cx="558.8" cy="1800.96" r="7.35" fill="#fff" stroke="#14a7e0" stroke-width="1.9"/>
<text x="610.2" y="1810.56" font-family="Liberation Sans, sans-serif" font-size="25" font-weight="bold" fill="#686868" text-anchor="start" textLength="25.6" lengthAdjust="spacingAndGlyphs">M</text>
<text x="640.3 654.5 669.2 686.1 700.8 717.6" y="1810.56" font-family="Liberation Sans, sans-serif" font-size="25" font-weight="bold" fill="#686868">1,O.C.</text>
<path d="M519.2,1834.13 H598" fill="none" stroke="#f5852e" stroke-width="3.9" stroke-dasharray="0.01 9.65" stroke-linecap="round" stroke-linejoin="round"/>
<circle cx="558.8" cy="1834.13" r="7.35" fill="#fff" stroke="#f5852e" stroke-width="1.9"/>
<text x="610.2" y="1843.73" font-family="Liberation Sans, sans-serif" font-size="25" font-weight="bold" fill="#686868" text-anchor="start" textLength="25.6" lengthAdjust="spacingAndGlyphs">M</text>
<text x="640.4 654.5 661.6 676.3 693.9 708.7 726.4" y="1843.73" font-family="Liberation Sans, sans-serif" font-size="25" font-weight="bold" fill="#686868">2,,O.C.</text>
<path d="M519.2,1867.3 H598" fill="none" stroke="#60b450" stroke-width="3.9" stroke-dasharray="0.01 9.65" stroke-linecap="round" stroke-linejoin="round"/>
<circle cx="558.8" cy="1867.3" r="7.35" fill="#fff" stroke="#60b450" stroke-width="1.9"/>
<text x="610.2" y="1876.9" font-family="Liberation Sans, sans-serif" font-size="25" font-weight="bold" fill="#686868" text-anchor="start" textLength="25.6" lengthAdjust="spacingAndGlyphs">M</text>
<text x="640.3 654.5 669.2 686.1 700.8 717.6" y="1876.9" font-family="Liberation Sans, sans-serif" font-size="25" font-weight="bold" fill="#686868">3,O.C.</text>
<path d="M519.2,1900.47 H598" fill="none" stroke="#ffc000" stroke-width="3.9" stroke-dasharray="0.01 9.65" stroke-linecap="round" stroke-linejoin="round"/>
<circle cx="558.8" cy="1900.47" r="7.35" fill="#fff" stroke="#ffc000" stroke-width="1.9"/>
<text x="610.2" y="1910.07" font-family="Liberation Sans, sans-serif" font-size="25" font-weight="bold" fill="#686868" text-anchor="start" textLength="25.6" lengthAdjust="spacingAndGlyphs">M</text>
<text x="640.3 654.5 669.2 686.1 700.8 717.6" y="1910.07" font-family="Liberation Sans, sans-serif" font-size="25" font-weight="bold" fill="#686868">4,O.C.</text>
<path d="M519.2,1933.64 H598" fill="none" stroke="#124e82" stroke-width="3.9" stroke-dasharray="0.01 9.65" stroke-linecap="round" stroke-linejoin="round"/>
<circle cx="558.8" cy="1933.64" r="7.35" fill="#fff" stroke="#124e82" stroke-width="1.9"/>
<text x="610.2" y="1943.24" font-family="Liberation Sans, sans-serif" font-size="25" font-weight="bold" fill="#686868" text-anchor="start" textLength="25.6" lengthAdjust="spacingAndGlyphs">M</text>
<text x="640.3 654.5 669.2 686.1 700.8 717.6" y="1943.24" font-family="Liberation Sans, sans-serif" font-size="25" font-weight="bold" fill="#686868">5,O.C.</text>
<path d="M519.2,1966.81 H598" fill="none" stroke="#f80000" stroke-width="3.9" stroke-dasharray="0.01 9.65" stroke-linecap="round" stroke-linejoin="round"/>
<circle cx="558.8" cy="1966.81" r="7.35" fill="#fff" stroke="#f80000" stroke-width="1.9"/>
<text x="610.2" y="1976.41" font-family="Liberation Sans, sans-serif" font-size="25" font-weight="bold" fill="#686868" text-anchor="start" textLength="25.6" lengthAdjust="spacingAndGlyphs">M</text>
<text x="640.3 654.5 669.2 686.1 700.8 717.6" y="1976.41" font-family="Liberation Sans, sans-serif" font-size="25" font-weight="bold" fill="#686868">6,O.C.</text>
<path d="M519.2,1999.98 H598" fill="none" stroke="#222222" stroke-width="3.9" stroke-dasharray="0.01 9.65" stroke-linecap="round" stroke-linejoin="round"/>
<circle cx="558.8" cy="1999.98" r="7.35" fill="#fff" stroke="#222222" stroke-width="1.9"/>
<text x="610.2" y="2009.58" font-family="Liberation Sans, sans-serif" font-size="25" font-weight="bold" fill="#686868" text-anchor="start" textLength="25.6" lengthAdjust="spacingAndGlyphs">M</text>
<text x="640.3 654.5 669.2 686.1 700.8 717.6" y="2009.58" font-family="Liberation Sans, sans-serif" font-size="25" font-weight="bold" fill="#686868">7,O.C.</text>
<path d="M519.2,2033.15 H598" fill="none" stroke="#f80000" stroke-width="3.9" stroke-dasharray="0.01 9.65" stroke-linecap="round" stroke-linejoin="round"/>
<circle cx="558.8" cy="2033.15" r="7.35" fill="#fff" stroke="#f80000" stroke-width="1.9"/>
<text x="610.2" y="2042.75" font-family="Liberation Sans, sans-serif" font-size="25" font-weight="bold" fill="#686868" text-anchor="start" textLength="25.6" lengthAdjust="spacingAndGlyphs">M</text>
<text x="640.3 654.5 669.2 686.1 700.8 717.6" y="2042.75" font-family="Liberation Sans, sans-serif" font-size="25" font-weight="bold" fill="#686868">8,O.C.</text>
</svg>
</body></html>
